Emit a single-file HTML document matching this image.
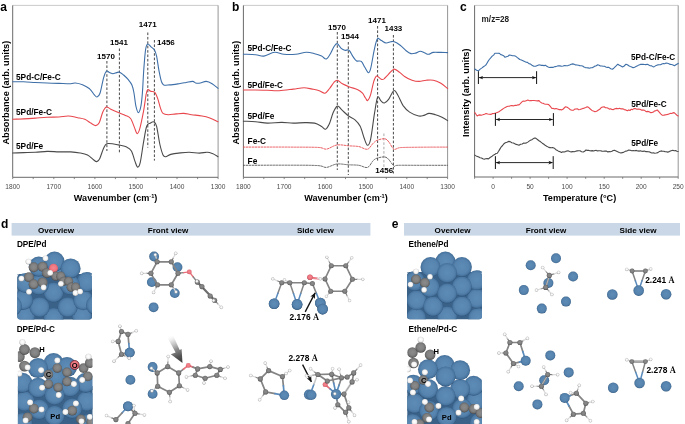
<!DOCTYPE html><html><head><meta charset="utf-8"><title>figure</title>
<style>html,body{margin:0;padding:0;background:#fff;}svg{display:block;will-change:transform}</style></head><body>
<svg width="685" height="424" viewBox="0 0 685 424">
<defs>
<radialGradient id="gPd" cx="50%" cy="48%" r="51%"><stop offset="0" stop-color="#5d8cb7"/><stop offset="0.68" stop-color="#5684af"/><stop offset="0.87" stop-color="#4a77a1"/><stop offset="0.96" stop-color="#3d658d"/><stop offset="1" stop-color="#2f5479"/></radialGradient>
<radialGradient id="gC" cx="50%" cy="46%" r="54%"><stop offset="0" stop-color="#8b8b8b"/><stop offset="0.55" stop-color="#818181"/><stop offset="0.82" stop-color="#6b6b6b"/><stop offset="1" stop-color="#484848"/></radialGradient>
<radialGradient id="gH" cx="50%" cy="46%" r="54%"><stop offset="0" stop-color="#ffffff"/><stop offset="0.55" stop-color="#f6f6f6"/><stop offset="0.85" stop-color="#d8d8d8"/><stop offset="1" stop-color="#a0a0a0"/></radialGradient>
<radialGradient id="gO" cx="50%" cy="46%" r="54%"><stop offset="0" stop-color="#f5868f"/><stop offset="0.6" stop-color="#ee7781"/><stop offset="0.88" stop-color="#d9616d"/><stop offset="1" stop-color="#b04a56"/></radialGradient>
<linearGradient id="gArrow" gradientUnits="userSpaceOnUse" x1="169.5" y1="335" x2="181" y2="362"><stop offset="0" stop-color="#ffffff" stop-opacity="0"/><stop offset="0.25" stop-color="#d0d0d0" stop-opacity="0.75"/><stop offset="0.55" stop-color="#8a8a8a"/><stop offset="0.8" stop-color="#555555"/><stop offset="1" stop-color="#3c3c3c"/></linearGradient>
<marker id="ah2" viewBox="0 0 10 10" refX="9.5" refY="5" markerWidth="4.4" markerHeight="4.4" orient="auto"><path d="M0,0.6 L10,5 L0,9.4 L2.2,5 z" fill="#111"/></marker>
<marker id="ah" viewBox="0 0 10 10" refX="9" refY="5" markerWidth="5" markerHeight="5" orient="auto-start-reverse"><path d="M0,1 L10,5 L0,9 L3,5 z" fill="#111"/></marker>
</defs>
<rect x="0" y="0" width="685" height="424" fill="#ffffff"/>
<path d="M12.7,5.4 H218.1" stroke="#bcbcbc" stroke-width="0.8" fill="none"/>
<path d="M218.1,5.4 V177.3" stroke="#969696" stroke-width="1" fill="none"/>
<path d="M12.7,5.4 V177.3 H218.1" stroke="#6a6a6a" stroke-width="1" fill="none"/>
<text x="12.7" y="188.9" font-size="6.6" font-weight="normal" text-anchor="middle" fill="#4a4a4a" font-family="Liberation Sans, sans-serif" >1800</text>
<text x="53.8" y="188.9" font-size="6.6" font-weight="normal" text-anchor="middle" fill="#4a4a4a" font-family="Liberation Sans, sans-serif" >1700</text>
<text x="94.9" y="188.9" font-size="6.6" font-weight="normal" text-anchor="middle" fill="#4a4a4a" font-family="Liberation Sans, sans-serif" >1600</text>
<text x="135.9" y="188.9" font-size="6.6" font-weight="normal" text-anchor="middle" fill="#4a4a4a" font-family="Liberation Sans, sans-serif" >1500</text>
<text x="177.0" y="188.9" font-size="6.6" font-weight="normal" text-anchor="middle" fill="#4a4a4a" font-family="Liberation Sans, sans-serif" >1400</text>
<text x="218.1" y="188.9" font-size="6.6" font-weight="normal" text-anchor="middle" fill="#4a4a4a" font-family="Liberation Sans, sans-serif" >1300</text>
<path d="M12.7,177.3 v1.8" stroke="#6a6a6a" stroke-width="0.8"/>
<path d="M33.2,177.3 v1.8" stroke="#6a6a6a" stroke-width="0.8"/>
<path d="M53.8,177.3 v1.8" stroke="#6a6a6a" stroke-width="0.8"/>
<path d="M74.3,177.3 v1.8" stroke="#6a6a6a" stroke-width="0.8"/>
<path d="M94.9,177.3 v1.8" stroke="#6a6a6a" stroke-width="0.8"/>
<path d="M115.4,177.3 v1.8" stroke="#6a6a6a" stroke-width="0.8"/>
<path d="M135.9,177.3 v1.8" stroke="#6a6a6a" stroke-width="0.8"/>
<path d="M156.5,177.3 v1.8" stroke="#6a6a6a" stroke-width="0.8"/>
<path d="M177.0,177.3 v1.8" stroke="#6a6a6a" stroke-width="0.8"/>
<path d="M197.6,177.3 v1.8" stroke="#6a6a6a" stroke-width="0.8"/>
<path d="M218.1,177.3 v1.8" stroke="#6a6a6a" stroke-width="0.8"/>
<text x="0.3" y="10.5" font-size="12" font-weight="bold" text-anchor="start" fill="#000" font-family="Liberation Sans, sans-serif" >a</text>
<text transform="translate(9.4,92.7) rotate(-90)" font-size="9.25" font-weight="bold" text-anchor="middle" fill="#000" font-family="Liberation Sans, sans-serif">Absorbance (arb. units)</text>
<text x="115.6" y="201.3" font-size="9.1" font-weight="bold" text-anchor="middle" fill="#000" font-family="Liberation Sans, sans-serif">Wavenumber (cm<tspan font-size="5.6" dy="-3.2">-1</tspan><tspan dy="3.2">)</tspan></text>
<path d="M106.9,61.0 V151.0" stroke="#333" stroke-width="0.9" stroke-dasharray="2.6 1.8" fill="none"/>
<path d="M119.4,48.5 V152.3" stroke="#333" stroke-width="0.9" stroke-dasharray="2.6 1.8" fill="none"/>
<path d="M147.8,32.5 V147.6" stroke="#333" stroke-width="0.9" stroke-dasharray="2.6 1.8" fill="none"/>
<path d="M154.4,40.0 V160.6" stroke="#333" stroke-width="0.9" stroke-dasharray="2.6 1.8" fill="none"/>
<text x="147.7" y="27.3" font-size="8" font-weight="bold" text-anchor="middle" fill="#000" font-family="Liberation Sans, sans-serif" >1471</text>
<text x="119.0" y="44.6" font-size="8" font-weight="bold" text-anchor="middle" fill="#000" font-family="Liberation Sans, sans-serif" >1541</text>
<text x="106.0" y="58.5" font-size="8" font-weight="bold" text-anchor="middle" fill="#000" font-family="Liberation Sans, sans-serif" >1570</text>
<text x="157.0" y="44.6" font-size="8" font-weight="bold" text-anchor="start" fill="#000" font-family="Liberation Sans, sans-serif" >1456</text>
<text x="16.0" y="80.0" font-size="8.3" font-weight="bold" text-anchor="start" fill="#000" font-family="Liberation Sans, sans-serif" >5Pd-C/Fe-C</text>
<text x="16.0" y="114.7" font-size="8.3" font-weight="bold" text-anchor="start" fill="#000" font-family="Liberation Sans, sans-serif" >5Pd/Fe-C</text>
<text x="16.0" y="149.4" font-size="8.3" font-weight="bold" text-anchor="start" fill="#000" font-family="Liberation Sans, sans-serif" >5Pd/Fe</text>
<path d="M12.7,81.8 C14.5,81.8 19.8,81.7 23.6,81.8 C27.4,81.9 31.5,82.3 35.4,82.5 C39.3,82.7 43.2,82.8 47.1,83.0 C51.0,83.2 55.0,83.3 58.9,83.4 C62.8,83.5 68.0,83.8 70.7,83.7 C73.5,83.6 73.4,82.8 75.4,83.0 C77.4,83.2 80.1,83.8 82.5,84.8 C84.9,85.8 87.6,87.2 89.6,88.8 C91.5,90.4 93.0,93.2 94.2,94.6 C95.4,96.0 96.0,97.2 97.0,97.0 C98.0,96.8 98.9,96.4 100.0,93.2 C101.1,90.0 102.5,81.5 103.6,77.8 C104.7,74.1 105.5,72.1 106.5,71.2 C107.5,70.3 108.4,72.2 109.5,72.6 C110.6,73.0 111.8,73.8 113.0,73.8 C114.2,73.8 115.5,72.9 116.6,72.6 C117.7,72.3 118.4,71.8 119.6,72.2 C120.8,72.6 122.1,73.8 123.6,75.0 C125.0,76.2 126.9,78.0 128.3,79.7 C129.7,81.4 131.0,82.9 131.9,84.9 C132.8,87.0 133.2,88.5 133.8,92.0 C134.5,95.5 135.1,102.2 135.8,105.6 C136.6,109.0 137.4,112.6 138.3,112.6 C139.2,112.6 140.3,109.4 141.0,105.6 C141.7,101.8 142.2,95.8 142.6,90.0 C143.0,84.2 143.2,77.5 143.7,70.8 C144.2,64.0 144.9,54.0 145.6,49.5 C146.3,45.0 146.8,44.5 147.7,44.0 C148.6,43.5 149.7,45.7 150.8,46.7 C151.9,47.7 153.5,48.4 154.5,50.0 C155.5,51.6 155.9,53.1 156.7,56.6 C157.4,60.1 158.2,66.7 159.0,70.8 C159.8,74.9 160.6,79.1 161.4,81.4 C162.2,83.8 162.3,84.3 163.7,84.9 C165.1,85.5 167.0,85.1 169.6,84.9 C172.2,84.7 176.2,84.1 179.0,83.7 C181.8,83.3 183.8,82.9 186.1,82.5 C188.4,82.1 191.1,81.3 192.7,81.4 C194.3,81.5 194.3,82.7 195.6,83.0 C196.9,83.3 198.5,83.3 200.3,83.0 C202.1,82.7 204.2,81.3 206.2,81.4 C208.2,81.5 210.1,82.5 212.1,83.7 C214.1,84.9 217.0,87.6 218.0,88.4" fill="none" stroke="#3e6fa8" stroke-width="1.1" stroke-linejoin="round" stroke-linecap="round"/>
<path d="M12.7,119.3 C14.5,119.2 19.8,119.1 23.6,118.9 C27.4,118.7 31.5,118.4 35.4,118.1 C39.3,117.8 43.2,117.4 47.1,117.2 C51.0,117.0 55.4,117.2 58.9,117.0 C62.4,116.8 65.1,115.9 68.3,116.0 C71.5,116.1 75.0,117.2 77.8,117.7 C80.5,118.2 82.6,118.4 84.8,119.3 C87.0,120.2 88.9,122.0 90.7,123.1 C92.5,124.1 94.4,125.6 95.8,125.6 C97.2,125.5 98.0,125.1 99.2,122.8 C100.4,120.5 101.6,114.6 102.8,112.0 C104.0,109.4 105.0,107.5 106.3,107.0 C107.6,106.5 108.7,108.2 110.8,109.2 C112.9,110.2 116.5,111.8 118.9,112.8 C121.3,113.8 123.5,114.5 125.4,115.4 C127.4,116.4 129.1,116.5 130.6,118.5 C132.1,120.5 133.4,125.1 134.5,127.6 C135.6,130.1 136.2,133.4 137.1,133.6 C138.0,133.8 138.6,132.7 139.7,128.9 C140.8,125.1 142.5,116.6 143.6,110.8 C144.7,105.0 145.5,97.5 146.2,94.0 C146.9,90.5 147.2,90.0 147.9,89.6 C148.6,89.1 149.4,90.8 150.6,91.3 C151.8,91.8 153.6,91.1 154.8,92.4 C156.0,93.7 157.0,96.5 157.9,99.1 C158.8,101.7 159.7,105.8 160.5,108.2 C161.3,110.6 161.7,112.3 163.0,113.4 C164.3,114.5 166.0,114.6 168.2,114.7 C170.4,114.8 173.4,114.1 176.0,113.9 C178.6,113.7 181.2,113.3 183.8,113.4 C186.4,113.5 188.6,114.3 191.6,114.7 C194.6,115.1 199.0,115.5 202.0,116.0 C205.0,116.5 207.1,117.0 209.8,118.0 C212.5,119.0 216.6,121.1 218.0,121.7" fill="none" stroke="#e8474d" stroke-width="1.1" stroke-linejoin="round" stroke-linecap="round"/>
<path d="M12.7,153.0 C14.5,152.9 19.8,152.7 23.6,152.6 C27.4,152.5 31.5,152.5 35.4,152.3 C39.3,152.1 43.2,151.5 47.1,151.4 C51.0,151.3 55.0,151.8 58.9,151.9 C62.8,152.0 67.2,151.7 70.7,151.9 C74.2,152.1 77.3,152.5 80.1,153.0 C82.9,153.5 85.3,153.9 87.5,155.0 C89.7,156.1 92.0,158.7 93.5,159.8 C95.0,160.9 95.8,161.8 96.8,161.6 C97.8,161.4 98.7,160.6 99.8,158.4 C100.9,156.2 102.3,150.9 103.5,148.4 C104.7,145.9 105.1,144.4 106.8,143.7 C108.5,143.0 111.5,143.7 113.7,144.0 C115.9,144.3 118.0,144.8 120.2,145.3 C122.4,145.8 124.8,146.2 126.7,147.1 C128.6,148.0 130.0,148.6 131.4,151.0 C132.8,153.4 134.0,158.7 135.0,161.4 C136.0,164.1 136.7,166.9 137.6,167.1 C138.5,167.3 139.2,166.9 140.2,162.7 C141.2,158.5 142.5,148.0 143.6,141.9 C144.7,135.8 145.6,129.4 146.7,126.3 C147.8,123.2 148.9,123.9 150.1,123.2 C151.3,122.5 152.9,121.4 154.0,121.9 C155.1,122.4 155.6,122.5 156.6,126.3 C157.6,130.1 158.8,139.7 159.9,144.5 C161.0,149.3 162.1,152.9 163.0,154.9 C163.9,156.9 164.3,156.8 165.6,156.7 C166.9,156.6 168.6,155.0 170.8,154.4 C173.0,153.8 175.6,153.4 178.6,153.1 C181.6,152.8 185.5,152.3 189.0,152.3 C192.5,152.3 196.4,153.1 199.4,153.1 C202.4,153.1 205.0,152.2 207.2,152.3 C209.4,152.4 210.6,152.9 212.4,153.6 C214.2,154.3 217.1,156.2 218.0,156.7" fill="none" stroke="#4a4a4a" stroke-width="1.1" stroke-linejoin="round" stroke-linecap="round"/>
<path d="M243.4,5.4 H447.6" stroke="#bcbcbc" stroke-width="0.8" fill="none"/>
<path d="M447.6,5.4 V177.3" stroke="#969696" stroke-width="1" fill="none"/>
<path d="M243.4,5.4 V177.3 H447.6" stroke="#6a6a6a" stroke-width="1" fill="none"/>
<text x="243.4" y="188.9" font-size="6.6" font-weight="normal" text-anchor="middle" fill="#4a4a4a" font-family="Liberation Sans, sans-serif" >1800</text>
<text x="284.2" y="188.9" font-size="6.6" font-weight="normal" text-anchor="middle" fill="#4a4a4a" font-family="Liberation Sans, sans-serif" >1700</text>
<text x="325.1" y="188.9" font-size="6.6" font-weight="normal" text-anchor="middle" fill="#4a4a4a" font-family="Liberation Sans, sans-serif" >1600</text>
<text x="365.9" y="188.9" font-size="6.6" font-weight="normal" text-anchor="middle" fill="#4a4a4a" font-family="Liberation Sans, sans-serif" >1500</text>
<text x="406.8" y="188.9" font-size="6.6" font-weight="normal" text-anchor="middle" fill="#4a4a4a" font-family="Liberation Sans, sans-serif" >1400</text>
<text x="447.6" y="188.9" font-size="6.6" font-weight="normal" text-anchor="middle" fill="#4a4a4a" font-family="Liberation Sans, sans-serif" >1300</text>
<path d="M243.4,177.3 v1.8" stroke="#6a6a6a" stroke-width="0.8"/>
<path d="M263.8,177.3 v1.8" stroke="#6a6a6a" stroke-width="0.8"/>
<path d="M284.2,177.3 v1.8" stroke="#6a6a6a" stroke-width="0.8"/>
<path d="M304.7,177.3 v1.8" stroke="#6a6a6a" stroke-width="0.8"/>
<path d="M325.1,177.3 v1.8" stroke="#6a6a6a" stroke-width="0.8"/>
<path d="M345.5,177.3 v1.8" stroke="#6a6a6a" stroke-width="0.8"/>
<path d="M365.9,177.3 v1.8" stroke="#6a6a6a" stroke-width="0.8"/>
<path d="M386.3,177.3 v1.8" stroke="#6a6a6a" stroke-width="0.8"/>
<path d="M406.8,177.3 v1.8" stroke="#6a6a6a" stroke-width="0.8"/>
<path d="M427.2,177.3 v1.8" stroke="#6a6a6a" stroke-width="0.8"/>
<path d="M447.6,177.3 v1.8" stroke="#6a6a6a" stroke-width="0.8"/>
<text x="232.0" y="10.9" font-size="12" font-weight="bold" text-anchor="start" fill="#000" font-family="Liberation Sans, sans-serif" >b</text>
<text transform="translate(239.3,92.7) rotate(-90)" font-size="9.25" font-weight="bold" text-anchor="middle" fill="#000" font-family="Liberation Sans, sans-serif">Absorbance (arb. units)</text>
<text x="346" y="201.3" font-size="9.1" font-weight="bold" text-anchor="middle" fill="#000" font-family="Liberation Sans, sans-serif">Wavenumber (cm<tspan font-size="5.6" dy="-3.2">-1</tspan><tspan dy="3.2">)</tspan></text>
<path d="M337.3,32.0 V170.0" stroke="#333" stroke-width="0.9" stroke-dasharray="2.6 1.8" fill="none"/>
<path d="M348.3,42.0 V175.0" stroke="#333" stroke-width="0.9" stroke-dasharray="2.6 1.8" fill="none"/>
<path d="M377.6,26.0 V161.5" stroke="#333" stroke-width="0.9" stroke-dasharray="2.6 1.8" fill="none"/>
<path d="M393.4,35.0 V173.5" stroke="#333" stroke-width="0.9" stroke-dasharray="2.6 1.8" fill="none"/>
<path d="M383.9,133.5 V169.0" stroke="#a0a0a0" stroke-width="0.9" stroke-dasharray="2.6 1.8" fill="none"/>
<text x="337.0" y="30.0" font-size="8" font-weight="bold" text-anchor="middle" fill="#000" font-family="Liberation Sans, sans-serif" >1570</text>
<text x="350.0" y="39.3" font-size="8" font-weight="bold" text-anchor="middle" fill="#000" font-family="Liberation Sans, sans-serif" >1544</text>
<text x="377.0" y="23.0" font-size="8" font-weight="bold" text-anchor="middle" fill="#000" font-family="Liberation Sans, sans-serif" >1471</text>
<text x="393.4" y="31.3" font-size="8" font-weight="bold" text-anchor="middle" fill="#000" font-family="Liberation Sans, sans-serif" >1433</text>
<text x="384.2" y="173.0" font-size="8" font-weight="bold" text-anchor="middle" fill="#000" font-family="Liberation Sans, sans-serif" >1456</text>
<text x="247.4" y="51.2" font-size="8.2" font-weight="bold" text-anchor="start" fill="#000" font-family="Liberation Sans, sans-serif" >5Pd-C/Fe-C</text>
<text x="247.4" y="88.0" font-size="8.2" font-weight="bold" text-anchor="start" fill="#000" font-family="Liberation Sans, sans-serif" >5Pd/Fe-C</text>
<text x="247.4" y="119.4" font-size="8.2" font-weight="bold" text-anchor="start" fill="#000" font-family="Liberation Sans, sans-serif" >5Pd/Fe</text>
<text x="247.6" y="143.5" font-size="8.3" font-weight="bold" text-anchor="start" fill="#000" font-family="Liberation Sans, sans-serif" >Fe-C</text>
<text x="247.6" y="164.0" font-size="8.3" font-weight="bold" text-anchor="start" fill="#000" font-family="Liberation Sans, sans-serif" >Fe</text>
<path d="M243.4,54.2 C245.4,54.3 252.2,54.4 255.6,54.7 C259.0,55.0 260.8,56.5 263.9,56.1 C267.0,55.7 271.2,52.6 274.5,52.3 C277.8,52.0 280.4,53.9 283.9,54.2 C287.4,54.5 292.0,54.5 295.7,54.2 C299.4,53.9 303.1,52.4 306.3,52.3 C309.5,52.2 312.1,53.1 314.6,53.7 C317.2,54.3 319.7,55.2 321.6,56.1 C323.6,57.0 324.8,59.5 326.3,59.0 C327.8,58.5 329.5,55.2 330.8,53.0 C332.1,50.8 333.3,47.5 334.4,46.0 C335.5,44.5 336.3,43.3 337.4,43.7 C338.5,44.1 340.0,47.3 341.2,48.4 C342.4,49.5 343.5,50.0 344.8,50.3 C346.1,50.6 347.6,49.2 349.0,50.3 C350.4,51.3 351.7,54.8 353.0,56.6 C354.3,58.4 355.2,60.1 356.6,60.9 C358.0,61.7 359.9,60.3 361.3,61.4 C362.7,62.5 363.6,65.4 364.8,67.3 C366.0,69.2 367.4,72.5 368.4,72.7 C369.4,72.9 369.7,72.2 370.7,68.4 C371.7,64.6 373.2,54.5 374.3,49.6 C375.4,44.7 376.2,40.4 377.4,38.9 C378.6,37.4 379.9,39.9 381.4,40.6 C382.8,41.3 384.5,42.8 386.1,43.0 C387.7,43.2 389.4,42.0 390.8,41.8 C392.2,41.6 392.7,41.2 394.3,41.8 C395.9,42.4 398.2,43.8 400.2,45.3 C402.2,46.8 404.3,49.3 406.1,50.7 C407.9,52.1 409.3,53.2 410.9,53.6 C412.5,54.0 414.0,53.5 415.6,53.1 C417.2,52.7 418.7,51.2 420.3,51.2 C421.9,51.2 423.6,52.6 425.0,53.1 C426.4,53.6 427.2,54.4 428.6,54.3 C430.0,54.2 431.3,52.7 433.3,52.4 C435.3,52.1 438.0,52.4 440.4,52.4 C442.8,52.4 446.4,52.6 447.6,52.6" fill="none" stroke="#3e6fa8" stroke-width="1.1" stroke-linejoin="round" stroke-linecap="round"/>
<path d="M243.4,90.0 C245.4,90.0 251.6,90.0 255.6,90.0 C259.6,90.0 263.5,90.2 267.4,90.3 C271.3,90.4 274.9,90.9 279.2,90.7 C283.5,90.5 289.2,89.6 293.3,89.1 C297.4,88.6 300.9,87.7 304.0,87.7 C307.1,87.7 309.6,88.6 312.2,89.1 C314.8,89.6 317.2,90.0 319.3,90.7 C321.4,91.4 323.3,93.6 325.0,93.2 C326.7,92.8 328.1,90.3 329.6,88.5 C331.1,86.7 332.7,83.7 334.0,82.3 C335.3,80.9 336.0,80.0 337.4,80.2 C338.8,80.5 340.4,82.7 342.4,83.8 C344.4,84.9 346.9,85.9 349.5,86.9 C352.1,87.9 355.6,88.7 357.8,89.7 C360.0,90.8 361.2,91.8 362.5,93.2 C363.8,94.6 364.6,96.8 365.5,98.0 C366.4,99.2 366.7,101.1 367.6,100.5 C368.5,99.9 369.7,97.6 370.7,94.4 C371.7,91.2 372.8,84.5 373.8,81.4 C374.8,78.3 375.4,76.4 376.6,76.0 C377.8,75.6 379.7,78.6 380.9,79.1 C382.1,79.6 382.4,79.9 383.7,79.1 C384.9,78.3 386.7,75.9 388.4,74.3 C390.1,72.7 392.1,69.6 393.9,69.2 C395.7,68.8 397.2,70.8 399.1,72.0 C401.0,73.2 402.9,75.3 405.0,76.7 C407.1,78.1 409.6,79.4 412.0,80.2 C414.4,81.0 416.7,81.4 419.1,81.4 C421.5,81.4 423.8,80.4 426.2,80.2 C428.6,80.0 430.9,79.7 433.3,80.2 C435.7,80.7 438.0,81.7 440.4,83.1 C442.8,84.5 446.4,87.6 447.6,88.5" fill="none" stroke="#e8474d" stroke-width="1.1" stroke-linejoin="round" stroke-linecap="round"/>
<path d="M243.4,121.2 C245.4,121.3 251.6,121.4 255.6,121.7 C259.6,122.0 263.1,123.0 267.4,123.1 C271.7,123.2 277.3,122.4 281.6,122.4 C285.9,122.4 289.4,123.1 293.3,123.1 C297.2,123.1 301.6,122.6 305.1,122.6 C308.7,122.6 311.9,122.5 314.6,123.1 C317.4,123.7 319.8,125.4 321.6,126.4 C323.4,127.4 324.3,129.7 325.6,129.2 C326.9,128.7 328.2,126.3 329.5,123.5 C330.8,120.7 331.9,115.4 333.2,112.5 C334.5,109.6 335.9,106.5 337.4,106.1 C338.9,105.7 340.2,108.5 342.1,110.2 C344.0,111.9 346.5,114.4 348.6,116.0 C350.8,117.6 353.1,118.2 355.0,119.9 C356.9,121.6 358.7,123.3 360.2,126.3 C361.7,129.3 362.9,134.8 364.1,138.0 C365.3,141.2 366.4,145.1 367.5,145.3 C368.6,145.5 369.4,144.6 370.6,139.3 C371.8,134.0 373.3,120.4 374.5,113.4 C375.7,106.4 376.5,99.4 377.6,97.3 C378.7,95.2 379.9,100.0 381.0,100.9 C382.1,101.9 383.1,103.3 384.4,103.0 C385.7,102.7 387.2,101.2 388.8,99.1 C390.4,97.0 392.5,91.2 394.0,90.6 C395.5,89.9 396.4,92.7 397.9,95.2 C399.4,97.7 401.2,102.8 403.1,105.6 C405.1,108.4 407.0,110.4 409.6,112.1 C412.2,113.8 416.3,115.5 418.7,116.0 C421.1,116.5 422.1,115.8 423.8,115.4 C425.5,115.0 427.1,113.5 429.0,113.4 C430.9,113.3 433.3,114.1 435.5,114.7 C437.7,115.3 440.0,116.3 442.0,117.3 C444.0,118.3 446.7,120.0 447.6,120.6" fill="none" stroke="#4a4a4a" stroke-width="1.1" stroke-linejoin="round" stroke-linecap="round"/>
<path d="M243.4,147.1 C251.2,147.1 277.6,147.0 290.0,147.1 C302.4,147.2 311.9,147.1 318.0,147.4 C324.1,147.7 323.4,149.5 326.5,149.1 C329.6,148.7 333.2,145.6 336.9,145.0 C340.6,144.4 344.9,145.5 348.6,145.8 C352.3,146.1 355.8,146.0 358.9,146.6 C362.0,147.2 365.1,149.8 367.5,149.2 C369.9,148.6 371.5,144.7 373.2,143.2 C374.9,141.7 375.7,140.8 377.6,140.1 C379.6,139.4 383.0,138.5 384.9,138.8 C386.8,139.1 387.3,140.2 388.8,141.9 C390.3,143.6 392.1,148.2 394.0,149.2 C395.9,150.1 396.2,147.9 400.5,147.6 C404.8,147.3 412.1,147.3 420.0,147.2 C427.9,147.1 443.0,147.1 447.6,147.1" fill="none" stroke="#e8474d" stroke-width="0.9" stroke-linejoin="round" stroke-linecap="round" stroke-dasharray="1.7 1.3"/>
<path d="M243.4,165.3 C251.2,165.3 277.6,165.1 290.0,165.2 C302.4,165.2 311.9,165.2 318.0,165.6 C324.1,166.0 323.4,167.7 326.5,167.4 C329.6,167.1 333.2,164.4 336.9,164.0 C340.6,163.6 344.9,164.6 348.6,164.8 C352.3,165.0 355.8,164.9 358.9,165.3 C362.0,165.7 365.1,168.2 367.5,167.4 C369.9,166.6 371.5,162.2 373.2,160.6 C374.9,159.0 375.7,158.6 377.6,158.0 C379.6,157.4 383.0,156.7 384.9,157.0 C386.8,157.3 387.3,158.1 388.8,159.6 C390.3,161.1 392.5,165.1 394.0,166.1 C395.5,167.1 393.6,165.4 397.9,165.3 C402.2,165.2 411.7,165.3 420.0,165.3 C428.3,165.3 443.0,165.3 447.6,165.3" fill="none" stroke="#555" stroke-width="0.9" stroke-linejoin="round" stroke-linecap="round" stroke-dasharray="1.7 1.3"/>
<path d="M474.6,5.4 H678.2" stroke="#bcbcbc" stroke-width="0.8" fill="none"/>
<path d="M678.2,5.4 V177.0" stroke="#969696" stroke-width="1" fill="none"/>
<path d="M474.6,5.4 V177.0 H678.2" stroke="#6a6a6a" stroke-width="1" fill="none"/>
<path d="M474.6,177.0 v1.8" stroke="#6a6a6a" stroke-width="0.8"/>
<path d="M493.1,177.0 v1.8" stroke="#6a6a6a" stroke-width="0.8"/>
<path d="M511.6,177.0 v1.8" stroke="#6a6a6a" stroke-width="0.8"/>
<path d="M530.1,177.0 v1.8" stroke="#6a6a6a" stroke-width="0.8"/>
<path d="M548.6,177.0 v1.8" stroke="#6a6a6a" stroke-width="0.8"/>
<path d="M567.1,177.0 v1.8" stroke="#6a6a6a" stroke-width="0.8"/>
<path d="M585.7,177.0 v1.8" stroke="#6a6a6a" stroke-width="0.8"/>
<path d="M604.2,177.0 v1.8" stroke="#6a6a6a" stroke-width="0.8"/>
<path d="M622.7,177.0 v1.8" stroke="#6a6a6a" stroke-width="0.8"/>
<path d="M641.2,177.0 v1.8" stroke="#6a6a6a" stroke-width="0.8"/>
<path d="M659.7,177.0 v1.8" stroke="#6a6a6a" stroke-width="0.8"/>
<path d="M678.2,177.0 v1.8" stroke="#6a6a6a" stroke-width="0.8"/>
<text x="493.1" y="188.6" font-size="6.6" font-weight="normal" text-anchor="middle" fill="#4a4a4a" font-family="Liberation Sans, sans-serif" >0</text>
<text x="530.1" y="188.6" font-size="6.6" font-weight="normal" text-anchor="middle" fill="#4a4a4a" font-family="Liberation Sans, sans-serif" >50</text>
<text x="567.1" y="188.6" font-size="6.6" font-weight="normal" text-anchor="middle" fill="#4a4a4a" font-family="Liberation Sans, sans-serif" >100</text>
<text x="604.2" y="188.6" font-size="6.6" font-weight="normal" text-anchor="middle" fill="#4a4a4a" font-family="Liberation Sans, sans-serif" >150</text>
<text x="641.2" y="188.6" font-size="6.6" font-weight="normal" text-anchor="middle" fill="#4a4a4a" font-family="Liberation Sans, sans-serif" >200</text>
<text x="678.2" y="188.6" font-size="6.6" font-weight="normal" text-anchor="middle" fill="#4a4a4a" font-family="Liberation Sans, sans-serif" >250</text>
<text x="460.0" y="10.6" font-size="12" font-weight="bold" text-anchor="start" fill="#000" font-family="Liberation Sans, sans-serif" >c</text>
<text transform="translate(469.4,92.7) rotate(-90)" font-size="9.25" font-weight="bold" text-anchor="middle" fill="#000" font-family="Liberation Sans, sans-serif">Intensity (arb. units)</text>
<text x="579.6" y="201.3" font-size="9.1" font-weight="bold" text-anchor="middle" fill="#000" font-family="Liberation Sans, sans-serif" >Temperature (°C)</text>
<text x="481.6" y="21.6" font-size="8.2" font-weight="bold" text-anchor="start" fill="#222" font-family="Liberation Sans, sans-serif" >m/z=28</text>
<text x="631.0" y="60.3" font-size="8.2" font-weight="bold" text-anchor="start" fill="#000" font-family="Liberation Sans, sans-serif" >5Pd-C/Fe-C</text>
<text x="631.2" y="106.5" font-size="8.2" font-weight="bold" text-anchor="start" fill="#000" font-family="Liberation Sans, sans-serif" >5Pd/Fe-C</text>
<text x="631.2" y="145.6" font-size="8.2" font-weight="bold" text-anchor="start" fill="#000" font-family="Liberation Sans, sans-serif" >5Pd/Fe</text>
<path d="M474.8,69.0 L476.6,70.3 L478.4,70.8 L480.2,69.1 L482.0,67.9 L483.4,66.8 L484.7,65.9 L486.1,64.8 L487.7,61.9 L489.3,59.5 L490.9,57.7 L492.2,56.1 L493.6,55.1 L494.9,53.3 L496.5,53.3 L498.1,53.2 L499.4,53.4 L500.8,54.6 L502.1,55.0 L503.6,55.7 L505.0,57.3 L506.4,56.7 L507.9,56.3 L509.3,55.0 L510.9,55.2 L512.5,55.7 L514.2,55.7 L515.8,56.3 L517.1,57.4 L518.5,58.5 L519.8,59.5 L521.4,60.0 L523.0,60.7 L524.6,61.6 L526.2,62.2 L527.5,62.4 L528.9,63.7 L530.2,63.9 L532.0,65.2 L533.8,66.2 L535.6,66.2 L537.4,65.4 L538.8,64.9 L540.1,65.0 L541.5,65.4 L542.8,65.4 L544.1,65.6 L545.5,65.2 L546.8,66.3 L548.2,67.0 L549.5,67.5 L550.9,67.4 L552.4,67.4 L553.8,67.1 L555.3,66.6 L556.7,66.3 L558.3,65.8 L559.9,65.9 L561.5,66.3 L563.1,66.0 L564.7,65.5 L566.4,65.7 L568.0,65.6 L569.6,65.1 L571.2,64.3 L572.8,63.9 L574.2,64.3 L575.6,64.9 L577.0,65.0 L578.4,65.2 L579.8,65.6 L581.2,65.8 L582.6,66.0 L584.0,67.0 L585.4,67.6 L586.7,67.7 L588.1,67.9 L589.5,68.3 L590.9,67.8 L592.2,67.7 L593.6,66.9 L595.0,66.1 L596.3,65.8 L597.7,64.8 L599.1,65.2 L600.4,66.0 L601.8,66.0 L603.1,66.2 L604.5,66.3 L605.8,66.9 L607.2,67.4 L608.9,67.4 L610.7,68.7 L612.4,69.2 L613.8,68.2 L615.1,66.9 L616.4,65.7 L617.8,64.2 L619.4,65.3 L620.9,66.1 L622.5,67.0 L624.2,66.0 L626.0,64.2 L627.4,64.7 L628.8,65.7 L630.3,66.4 L631.7,67.0 L633.1,67.8 L634.6,67.2 L636.0,66.5 L637.5,65.8 L639.0,64.9 L640.4,64.4 L641.8,64.4 L643.1,64.3 L644.5,64.5 L645.9,64.6 L647.3,64.3 L648.8,65.1 L650.2,65.7 L651.7,65.9 L653.2,66.9 L654.7,66.4 L656.2,65.4 L657.6,64.9 L659.1,64.7 L660.5,64.8 L661.9,64.0 L663.3,63.5 L664.7,63.7 L666.1,63.1 L667.5,63.2 L668.9,63.7 L670.2,64.4 L671.6,64.5 L673.0,65.0 L674.4,65.7 L676.3,64.5 L678.2,63.4" fill="none" stroke="#3e6fa8" stroke-width="1.1" stroke-linejoin="round" stroke-linecap="round"/>
<path d="M474.8,112.5 L477.2,116.0 L478.5,115.1 L479.9,114.9 L481.2,115.2 L482.8,114.8 L484.5,114.2 L486.1,113.5 L487.7,114.0 L489.3,114.2 L490.9,114.4 L492.5,113.6 L494.1,113.5 L495.7,113.0 L497.3,112.4 L498.9,111.8 L500.5,110.6 L502.1,109.5 L503.7,108.4 L505.3,107.4 L506.6,106.7 L507.9,106.3 L509.2,106.3 L510.5,105.8 L511.8,105.5 L513.2,105.9 L514.7,105.4 L516.1,105.4 L517.6,104.9 L519.0,104.9 L520.3,103.6 L521.7,102.1 L523.0,101.1 L524.6,101.3 L526.2,100.7 L527.8,100.1 L529.4,100.7 L531.0,100.6 L532.6,100.5 L534.2,100.5 L535.8,100.7 L537.4,100.9 L539.0,100.6 L540.4,102.1 L541.7,103.0 L543.1,103.3 L544.5,104.0 L545.9,104.3 L547.3,104.3 L548.7,104.6 L550.3,106.4 L551.9,108.5 L553.3,108.4 L554.7,108.9 L556.1,108.5 L557.5,109.0 L558.8,109.6 L560.2,109.5 L561.5,109.9 L562.9,109.3 L564.2,108.0 L565.6,106.7 L567.2,107.3 L568.8,108.4 L570.4,109.7 L572.0,110.2 L573.3,110.3 L574.7,109.1 L576.0,109.0 L577.3,108.8 L578.7,109.7 L580.0,109.5 L581.4,108.9 L582.9,108.4 L584.3,108.1 L585.8,107.5 L587.2,106.8 L588.8,107.6 L590.3,109.0 L591.9,110.4 L593.4,111.1 L595.0,111.8 L596.6,111.3 L598.1,110.2 L599.7,109.3 L601.2,107.6 L602.8,107.0 L604.1,106.8 L605.4,107.8 L606.7,107.8 L608.0,108.1 L609.3,109.1 L610.6,108.7 L611.9,109.5 L613.4,109.6 L615.0,108.7 L616.5,108.4 L618.1,108.8 L619.6,108.2 L621.2,108.9 L622.7,108.7 L624.3,109.6 L625.8,109.9 L627.4,110.8 L628.7,109.9 L630.0,110.5 L631.3,109.2 L632.6,109.6 L633.9,108.6 L635.2,108.6 L636.8,109.3 L638.3,109.0 L639.9,109.3 L641.4,110.1 L643.0,110.1 L644.6,110.3 L646.1,111.7 L647.7,111.4 L649.2,111.8 L650.8,112.7 L652.1,112.4 L653.4,112.0 L654.7,110.9 L656.0,110.6 L657.3,110.0 L659.0,111.8 L660.7,113.8 L662.4,115.3 L663.7,115.3 L665.0,114.9 L666.3,114.8 L667.6,114.4 L668.9,113.9 L670.2,113.4 L671.5,113.5 L672.8,112.9 L674.1,112.6 L675.5,113.8 L676.8,115.2 L678.2,115.9" fill="none" stroke="#e8474d" stroke-width="1.1" stroke-linejoin="round" stroke-linecap="round"/>
<path d="M474.8,155.1 L476.1,155.9 L477.5,156.4 L478.8,157.1 L480.1,157.8 L481.5,158.0 L482.8,158.8 L484.2,159.2 L485.6,158.7 L487.1,158.6 L488.5,158.9 L490.1,157.5 L491.7,156.6 L493.3,155.2 L494.6,154.6 L496.0,153.5 L497.3,153.2 L498.6,151.3 L500.0,148.9 L501.3,146.8 L502.6,145.5 L504.0,143.7 L505.3,142.8 L506.9,142.2 L508.5,141.4 L510.1,141.6 L511.8,142.8 L513.4,143.0 L514.8,143.7 L516.2,144.4 L517.6,144.7 L519.0,145.3 L520.6,144.3 L522.2,144.0 L523.8,143.1 L525.1,143.2 L526.5,142.9 L527.8,142.1 L529.1,141.1 L530.5,140.2 L531.8,139.7 L533.4,138.6 L535.0,137.9 L536.3,138.6 L537.7,139.7 L539.0,140.7 L540.6,141.8 L542.3,143.2 L543.9,144.3 L545.5,145.6 L547.1,146.4 L548.7,147.4 L550.0,147.6 L551.4,147.8 L552.7,147.6 L554.3,148.2 L555.9,149.7 L557.5,150.6 L558.8,151.4 L560.2,151.7 L561.5,152.4 L562.8,151.8 L564.1,152.0 L565.4,151.6 L566.7,151.1 L568.0,150.8 L569.6,151.5 L571.2,151.9 L572.8,151.6 L574.2,151.8 L575.7,151.3 L577.1,150.9 L578.6,150.8 L580.0,150.8 L581.6,151.7 L583.3,152.0 L584.6,151.3 L585.9,150.0 L587.2,150.4 L588.5,150.2 L589.8,150.7 L591.1,150.9 L592.4,150.6 L593.7,151.0 L595.0,150.5 L596.3,150.4 L597.6,150.9 L598.9,150.7 L600.4,150.8 L601.9,151.1 L603.4,151.3 L604.8,151.1 L606.3,151.1 L607.8,151.9 L609.3,151.6 L610.6,151.7 L611.9,151.3 L613.2,150.5 L614.5,150.2 L616.1,150.9 L617.7,151.7 L619.3,152.4 L620.9,153.0 L622.2,152.6 L623.5,152.4 L624.8,151.6 L626.1,151.1 L627.4,150.8 L628.7,150.1 L630.2,150.2 L631.7,150.8 L633.2,150.6 L634.8,150.7 L636.3,150.4 L637.8,150.9 L639.1,151.1 L640.4,150.7 L641.7,151.3 L643.0,151.4 L644.3,151.0 L645.6,151.6 L646.9,151.6 L648.2,151.8 L649.5,151.9 L650.8,152.6 L652.1,153.0 L653.4,152.8 L654.7,153.3 L656.3,153.0 L657.9,152.6 L659.5,151.4 L661.1,150.9 L662.4,151.2 L663.7,151.3 L665.0,151.6 L666.3,151.8 L667.6,152.1 L669.3,151.6 L671.1,150.7 L672.8,150.2 L674.1,150.7 L675.5,150.5 L676.9,151.2 L678.2,151.5" fill="none" stroke="#4a4a4a" stroke-width="1.1" stroke-linejoin="round" stroke-linecap="round"/>
<path d="M478.4,71.19999999999999 V84.0 M536.6,71.19999999999999 V84.0" stroke="#111" stroke-width="1"/>
<path d="M479.2,77.6 H535.8000000000001" stroke="#111" stroke-width="0.9" marker-start="url(#ah)" marker-end="url(#ah)"/>
<path d="M495.4,113.1 V125.9 M553.4,113.1 V125.9" stroke="#111" stroke-width="1"/>
<path d="M496.2,119.5 H552.6" stroke="#111" stroke-width="0.9" marker-start="url(#ah)" marker-end="url(#ah)"/>
<path d="M495.4,156.2 V169.0 M553.2,156.2 V169.0" stroke="#111" stroke-width="1"/>
<path d="M496.2,162.6 H552.4000000000001" stroke="#111" stroke-width="0.9" marker-start="url(#ah)" marker-end="url(#ah)"/>
<rect x="11.6" y="223" width="358.8" height="12.6" fill="#c9d7e6"/>
<rect x="404" y="223" width="276" height="12.6" fill="#c9d7e6"/>
<text x="1.0" y="228.3" font-size="12" font-weight="bold" text-anchor="start" fill="#000" font-family="Liberation Sans, sans-serif" >d</text>
<text x="391.8" y="228.3" font-size="12" font-weight="bold" text-anchor="start" fill="#000" font-family="Liberation Sans, sans-serif" >e</text>
<text x="56.0" y="232.5" font-size="8.1" font-weight="bold" text-anchor="middle" fill="#000" font-family="Liberation Sans, sans-serif" >Overview</text>
<text x="168.0" y="232.5" font-size="8.1" font-weight="bold" text-anchor="middle" fill="#000" font-family="Liberation Sans, sans-serif" >Front view</text>
<text x="315.4" y="232.5" font-size="8.1" font-weight="bold" text-anchor="middle" fill="#000" font-family="Liberation Sans, sans-serif" >Side view</text>
<text x="452.6" y="232.5" font-size="8.1" font-weight="bold" text-anchor="middle" fill="#000" font-family="Liberation Sans, sans-serif" >Overview</text>
<text x="546.0" y="232.5" font-size="8.1" font-weight="bold" text-anchor="middle" fill="#000" font-family="Liberation Sans, sans-serif" >Front view</text>
<text x="638.0" y="232.5" font-size="8.1" font-weight="bold" text-anchor="middle" fill="#000" font-family="Liberation Sans, sans-serif" >Side view</text>
<text x="16.9" y="247.2" font-size="8.2" font-weight="bold" text-anchor="start" fill="#000" font-family="Liberation Sans, sans-serif" >DPE/Pd</text>
<text x="16.7" y="332.3" font-size="8.2" font-weight="bold" text-anchor="start" fill="#000" font-family="Liberation Sans, sans-serif" >DPE/Pd-C</text>
<text x="408.5" y="247.2" font-size="8.2" font-weight="bold" text-anchor="start" fill="#000" font-family="Liberation Sans, sans-serif" >Ethene/Pd</text>
<text x="408.6" y="332.0" font-size="8.2" font-weight="bold" text-anchor="start" fill="#000" font-family="Liberation Sans, sans-serif" >Ethene/Pd-C</text>
<clipPath id="cd1"><rect x="17.3" y="274.2" width="74.7" height="45.30000000000001" rx="3" ry="3"/><rect x="17.3" y="229.2" width="74.7" height="45.2"/></clipPath>
<g clip-path="url(#cd1)">
<rect x="17" y="274" width="76" height="46" fill="#3a6289"/>
<circle cx="25.0" cy="316.0" r="10" fill="url(#gPd)"/>
<circle cx="53.6" cy="318.0" r="10" fill="url(#gPd)"/>
<circle cx="82.0" cy="316.0" r="10" fill="url(#gPd)"/>
<circle cx="39.6" cy="307.3" r="10" fill="url(#gPd)"/>
<circle cx="67.6" cy="307.3" r="10" fill="url(#gPd)"/>
<circle cx="23.0" cy="300.0" r="10" fill="url(#gPd)"/>
<circle cx="83.3" cy="300.3" r="10" fill="url(#gPd)"/>
<circle cx="96.0" cy="305.0" r="10" fill="url(#gPd)"/>
<circle cx="12.0" cy="306.0" r="10" fill="url(#gPd)"/>
<circle cx="53.6" cy="292.5" r="10" fill="url(#gPd)"/>
<circle cx="25.7" cy="283.0" r="10" fill="url(#gPd)"/>
<circle cx="86.7" cy="282.0" r="10" fill="url(#gPd)"/>
<circle cx="38.8" cy="285.0" r="10" fill="url(#gPd)"/>
<circle cx="70.0" cy="285.0" r="10" fill="url(#gPd)"/>
<circle cx="38.8" cy="266.6" r="10" fill="url(#gPd)"/>
<circle cx="58.8" cy="271.2" r="10" fill="url(#gPd)"/>
<circle cx="54.5" cy="261.6" r="10" fill="url(#gPd)"/>
<circle cx="70.6" cy="268.4" r="10" fill="url(#gPd)"/>
<circle cx="33.7" cy="267.3" r="5.0" fill="url(#gC)"/>
<circle cx="42.6" cy="266.8" r="5.0" fill="url(#gC)"/>
<circle cx="29.0" cy="277.2" r="5.0" fill="url(#gC)"/>
<circle cx="33.7" cy="284.2" r="5.0" fill="url(#gC)"/>
<circle cx="42.6" cy="282.4" r="5.0" fill="url(#gC)"/>
<circle cx="46.9" cy="272.9" r="5.0" fill="url(#gC)"/>
<circle cx="53.5" cy="268.2" r="4.5" fill="url(#gO)"/>
<circle cx="55.8" cy="276.2" r="4.6" fill="url(#gC)"/>
<circle cx="60.8" cy="276.2" r="4.6" fill="url(#gC)"/>
<circle cx="63.6" cy="281.3" r="4.6" fill="url(#gC)"/>
<circle cx="68.6" cy="281.3" r="4.6" fill="url(#gC)"/>
<circle cx="71.2" cy="287.2" r="4.6" fill="url(#gC)"/>
<circle cx="75.6" cy="287.2" r="4.6" fill="url(#gC)"/>
<circle cx="28.5" cy="261.6" r="2.9" fill="url(#gH)"/>
<circle cx="45.5" cy="258.3" r="2.9" fill="url(#gH)"/>
<circle cx="21.4" cy="278.6" r="2.9" fill="url(#gH)"/>
<circle cx="29.0" cy="291.8" r="2.9" fill="url(#gH)"/>
<circle cx="43.6" cy="287.5" r="2.9" fill="url(#gH)"/>
<circle cx="50.2" cy="272.9" r="2.9" fill="url(#gH)"/>
<circle cx="60.9" cy="283.8" r="2.9" fill="url(#gH)"/>
<circle cx="75.4" cy="293.0" r="2.9" fill="url(#gH)"/>
<circle cx="80.1" cy="291.6" r="2.9" fill="url(#gH)"/>
</g>
<clipPath id="cd2"><rect x="17.9" y="374" width="74.6" height="56" rx="0" ry="0"/><rect x="17.9" y="334" width="74.6" height="40.2"/></clipPath>
<g clip-path="url(#cd2)">
<rect x="17" y="386" width="76" height="40" fill="#3a6289"/>
<circle cx="5.9" cy="398.2" r="10" fill="url(#gPd)"/>
<circle cx="104.4" cy="398.2" r="10" fill="url(#gPd)"/>
<circle cx="24.5" cy="401.3" r="10" fill="url(#gPd)"/>
<circle cx="86.7" cy="401.3" r="10" fill="url(#gPd)"/>
<circle cx="39.0" cy="409.6" r="10" fill="url(#gPd)"/>
<circle cx="72.2" cy="408.6" r="10" fill="url(#gPd)"/>
<circle cx="54.6" cy="415.8" r="10" fill="url(#gPd)"/>
<circle cx="22.4" cy="423.1" r="10" fill="url(#gPd)"/>
<circle cx="88.8" cy="424.1" r="10" fill="url(#gPd)"/>
<circle cx="22.4" cy="382.7" r="10" fill="url(#gPd)"/>
<circle cx="85.7" cy="382.7" r="10" fill="url(#gPd)"/>
<circle cx="38.0" cy="387.8" r="10" fill="url(#gPd)"/>
<circle cx="70.1" cy="386.8" r="10" fill="url(#gPd)"/>
<circle cx="54.6" cy="395.1" r="10" fill="url(#gPd)"/>
<circle cx="53.6" cy="363.0" r="10" fill="url(#gPd)"/>
<circle cx="38.0" cy="368.1" r="10" fill="url(#gPd)"/>
<circle cx="67.0" cy="367.1" r="10" fill="url(#gPd)"/>
<circle cx="56.0" cy="376.9" r="10" fill="url(#gPd)"/>
<circle cx="48.4" cy="374.4" r="4.7" fill="url(#gC)"/>
<circle cx="57.3" cy="368.1" r="4.7" fill="url(#gC)"/>
<circle cx="67.0" cy="372.3" r="4.7" fill="url(#gC)"/>
<circle cx="67.0" cy="381.6" r="4.7" fill="url(#gC)"/>
<circle cx="58.1" cy="387.4" r="4.7" fill="url(#gC)"/>
<circle cx="48.4" cy="384.1" r="4.7" fill="url(#gC)"/>
<circle cx="83.6" cy="368.1" r="4.9" fill="url(#gC)"/>
<circle cx="89.8" cy="363.0" r="4.9" fill="url(#gC)"/>
<circle cx="87.8" cy="376.4" r="4.9" fill="url(#gC)"/>
<circle cx="74.7" cy="365.0" r="4.5" fill="url(#gO)" stroke="#6a2630" stroke-width="0.8"/>
<circle cx="19.3" cy="356.7" r="5.4" fill="url(#gC)"/>
<circle cx="24.5" cy="366.1" r="5.4" fill="url(#gC)"/>
<circle cx="24.5" cy="349.5" r="5.4" fill="url(#gC)"/>
<circle cx="34.9" cy="352.6" r="5.4" fill="url(#gC)"/>
<circle cx="33.8" cy="408.6" r="4.9" fill="url(#gC)"/>
<circle cx="27.6" cy="417.3" r="4.9" fill="url(#gC)"/>
<circle cx="72.2" cy="410.7" r="4.9" fill="url(#gC)"/>
<circle cx="80.9" cy="419.4" r="4.9" fill="url(#gC)"/>
<circle cx="91.3" cy="422.1" r="4.9" fill="url(#gC)"/>
<circle cx="88.4" cy="356.7" r="3.0" fill="url(#gH)"/>
<circle cx="22.4" cy="342.2" r="3.0" fill="url(#gH)"/>
<circle cx="27.6" cy="367.5" r="3.0" fill="url(#gH)"/>
<circle cx="19.3" cy="373.7" r="3.0" fill="url(#gH)"/>
<circle cx="57.3" cy="360.5" r="3.0" fill="url(#gH)"/>
<circle cx="41.1" cy="370.2" r="3.0" fill="url(#gH)"/>
<circle cx="42.1" cy="387.8" r="3.0" fill="url(#gH)"/>
<circle cx="58.7" cy="395.1" r="3.0" fill="url(#gH)"/>
<circle cx="73.9" cy="384.1" r="3.0" fill="url(#gH)"/>
<circle cx="82.2" cy="380.0" r="3.0" fill="url(#gH)"/>
<circle cx="30.1" cy="402.4" r="3.0" fill="url(#gH)"/>
<circle cx="41.5" cy="409.6" r="3.0" fill="url(#gH)"/>
<circle cx="25.6" cy="420.6" r="3.0" fill="url(#gH)"/>
<circle cx="75.9" cy="403.4" r="3.0" fill="url(#gH)"/>
<circle cx="65.4" cy="412.1" r="3.0" fill="url(#gH)"/>
<circle cx="81.5" cy="421.4" r="3.0" fill="url(#gH)"/>
<circle cx="89.8" cy="416.9" r="3.0" fill="url(#gH)"/>
</g>
<text x="42.1" y="351.6" font-size="7.6" font-weight="bold" text-anchor="middle" fill="#000" font-family="Liberation Sans, sans-serif" >H</text>
<text x="48.6" y="377.2" font-size="7.6" font-weight="bold" text-anchor="middle" fill="#000" font-family="Liberation Sans, sans-serif" >C</text>
<text x="74.8" y="367.8" font-size="7.6" font-weight="bold" text-anchor="middle" fill="#000" font-family="Liberation Sans, sans-serif" >O</text>
<text x="55.2" y="418.6" font-size="7.6" font-weight="bold" text-anchor="middle" fill="#000" font-family="Liberation Sans, sans-serif" >Pd</text>
<circle cx="154.1" cy="256.5" r="4.9" fill="url(#gPd)"/>
<circle cx="177.5" cy="267.1" r="4.9" fill="url(#gPd)"/>
<circle cx="151.8" cy="282.1" r="4.9" fill="url(#gPd)"/>
<circle cx="174.8" cy="293.1" r="4.9" fill="url(#gPd)"/>
<circle cx="153.6" cy="307.3" r="4.9" fill="url(#gPd)"/>
<path d="M157.1,261.8 L171.3,261.8" stroke="#848484" stroke-width="1.7" stroke-linecap="round"/>
<path d="M171.3,261.8 L178.0,273.3" stroke="#848484" stroke-width="1.7" stroke-linecap="round"/>
<path d="M178.0,273.3 L171.3,284.8" stroke="#848484" stroke-width="1.7" stroke-linecap="round"/>
<path d="M171.3,284.8 L157.5,284.8" stroke="#848484" stroke-width="1.7" stroke-linecap="round"/>
<path d="M157.5,284.8 L150.9,273.3" stroke="#848484" stroke-width="1.7" stroke-linecap="round"/>
<path d="M150.9,273.3 L157.1,261.8" stroke="#848484" stroke-width="1.7" stroke-linecap="round"/>
<path d="M171.3,261.8 L173.5,257.6" stroke="#848484" stroke-width="1.15" stroke-linecap="round"/>
<path d="M173.5,257.6 L175.7,253.3" stroke="#d8d8d8" stroke-width="1.15" stroke-linecap="round"/>
<path d="M150.9,273.3 L146.3,273.3" stroke="#848484" stroke-width="1.15" stroke-linecap="round"/>
<path d="M146.3,273.3 L141.7,273.3" stroke="#d8d8d8" stroke-width="1.15" stroke-linecap="round"/>
<path d="M157.5,284.8 L155.6,288.6" stroke="#848484" stroke-width="1.15" stroke-linecap="round"/>
<path d="M155.6,288.6 L153.6,292.4" stroke="#d8d8d8" stroke-width="1.15" stroke-linecap="round"/>
<path d="M171.3,284.8 L173.7,288.4" stroke="#848484" stroke-width="1.15" stroke-linecap="round"/>
<path d="M173.7,288.4 L176.0,291.9" stroke="#d8d8d8" stroke-width="1.15" stroke-linecap="round"/>
<path d="M157.1,261.8 L156.2,258.2" stroke="#848484" stroke-width="1.15" stroke-linecap="round"/>
<path d="M156.2,258.2 L155.3,254.7" stroke="#d8d8d8" stroke-width="1.15" stroke-linecap="round"/>
<path d="M178.0,273.3 L183.7,272.6" stroke="#848484" stroke-width="1.4" stroke-linecap="round"/>
<path d="M183.7,272.6 L189.3,271.9" stroke="#e8707a" stroke-width="1.4" stroke-linecap="round"/>
<path d="M189.3,271.9 L193.3,277.0" stroke="#e8707a" stroke-width="1.4" stroke-linecap="round"/>
<path d="M193.3,277.0 L197.3,282.1" stroke="#848484" stroke-width="1.4" stroke-linecap="round"/>
<path d="M197.3,282.1 L214.6,300.2" stroke="#6e6e6e" stroke-width="2.2" stroke-linecap="round"/>
<path d="M214.6,300.2 L217.9,303.8" stroke="#848484" stroke-width="1.15" stroke-linecap="round"/>
<path d="M217.9,303.8 L221.3,307.3" stroke="#d8d8d8" stroke-width="1.15" stroke-linecap="round"/>
<circle cx="157.1" cy="261.8" r="2.55" fill="url(#gC)"/>
<circle cx="171.3" cy="261.8" r="2.55" fill="url(#gC)"/>
<circle cx="178.0" cy="273.3" r="2.55" fill="url(#gC)"/>
<circle cx="171.3" cy="284.8" r="2.55" fill="url(#gC)"/>
<circle cx="157.5" cy="284.8" r="2.55" fill="url(#gC)"/>
<circle cx="150.9" cy="273.3" r="2.55" fill="url(#gC)"/>
<circle cx="197.3" cy="282.1" r="2.55" fill="url(#gC)"/>
<circle cx="201.9" cy="286.6" r="2.55" fill="url(#gC)"/>
<circle cx="210.2" cy="296.0" r="2.55" fill="url(#gC)"/>
<circle cx="214.6" cy="300.2" r="2.55" fill="url(#gC)"/>
<circle cx="189.3" cy="271.9" r="2.4" fill="url(#gO)"/>
<circle cx="175.7" cy="253.3" r="1.5" fill="url(#gH)" stroke="#b0b0b0" stroke-width="0.35"/>
<circle cx="141.7" cy="273.3" r="1.5" fill="url(#gH)" stroke="#b0b0b0" stroke-width="0.35"/>
<circle cx="153.6" cy="292.4" r="1.5" fill="url(#gH)" stroke="#b0b0b0" stroke-width="0.35"/>
<circle cx="176.0" cy="291.9" r="1.5" fill="url(#gH)" stroke="#b0b0b0" stroke-width="0.35"/>
<circle cx="155.3" cy="254.7" r="1.5" fill="url(#gH)" stroke="#b0b0b0" stroke-width="0.35"/>
<circle cx="221.3" cy="307.3" r="1.5" fill="url(#gH)" stroke="#b0b0b0" stroke-width="0.35"/>
<circle cx="196.9" cy="281.3" r="1.5" fill="url(#gH)" stroke="#b0b0b0" stroke-width="0.35"/>
<circle cx="213.5" cy="300.5" r="1.5" fill="url(#gH)" stroke="#b0b0b0" stroke-width="0.35"/>
<circle cx="129.7" cy="352.6" r="4.9" fill="url(#gPd)"/>
<circle cx="152.6" cy="367.0" r="4.9" fill="url(#gPd)"/>
<circle cx="130.4" cy="379.9" r="4.9" fill="url(#gPd)"/>
<circle cx="152.6" cy="393.9" r="4.9" fill="url(#gPd)"/>
<circle cx="128.0" cy="406.3" r="4.9" fill="url(#gPd)"/>
<path d="M157.2,372.9 L167.7,366.6" stroke="#848484" stroke-width="1.7" stroke-linecap="round"/>
<path d="M167.7,366.6 L178.7,372.9" stroke="#848484" stroke-width="1.7" stroke-linecap="round"/>
<path d="M178.7,372.9 L179.4,385.7" stroke="#848484" stroke-width="1.7" stroke-linecap="round"/>
<path d="M179.4,385.7 L169.4,392.3" stroke="#848484" stroke-width="1.7" stroke-linecap="round"/>
<path d="M169.4,392.3 L157.7,386.2" stroke="#848484" stroke-width="1.7" stroke-linecap="round"/>
<path d="M157.7,386.2 L157.2,372.9" stroke="#848484" stroke-width="1.7" stroke-linecap="round"/>
<path d="M167.7,366.6 L167.9,361.6" stroke="#848484" stroke-width="1.15" stroke-linecap="round"/>
<path d="M167.9,361.6 L168.2,356.5" stroke="#d8d8d8" stroke-width="1.15" stroke-linecap="round"/>
<path d="M179.4,385.7 L183.5,387.8" stroke="#848484" stroke-width="1.15" stroke-linecap="round"/>
<path d="M183.5,387.8 L187.6,389.9" stroke="#d8d8d8" stroke-width="1.15" stroke-linecap="round"/>
<path d="M169.4,392.3 L169.8,397.0" stroke="#848484" stroke-width="1.15" stroke-linecap="round"/>
<path d="M169.8,397.0 L170.1,401.6" stroke="#d8d8d8" stroke-width="1.15" stroke-linecap="round"/>
<path d="M157.2,372.9 L154.3,370.5" stroke="#848484" stroke-width="1.15" stroke-linecap="round"/>
<path d="M154.3,370.5 L151.4,368.2" stroke="#d8d8d8" stroke-width="1.15" stroke-linecap="round"/>
<path d="M157.7,386.2 L154.8,388.5" stroke="#848484" stroke-width="1.15" stroke-linecap="round"/>
<path d="M154.8,388.5 L151.9,390.9" stroke="#d8d8d8" stroke-width="1.15" stroke-linecap="round"/>
<path d="M178.7,372.9 L183.5,369.1" stroke="#848484" stroke-width="1.7" stroke-linecap="round"/>
<path d="M183.5,369.1 L188.3,365.4" stroke="#e8707a" stroke-width="1.7" stroke-linecap="round"/>
<path d="M188.3,365.4 L192.9,367.1" stroke="#e8707a" stroke-width="1.7" stroke-linecap="round"/>
<path d="M192.9,367.1 L197.6,368.9" stroke="#848484" stroke-width="1.7" stroke-linecap="round"/>
<path d="M197.6,368.9 L209.8,366.6" stroke="#848484" stroke-width="1.7" stroke-linecap="round"/>
<path d="M209.8,366.6 L220.3,369.4" stroke="#848484" stroke-width="1.7" stroke-linecap="round"/>
<path d="M220.3,369.4 L216.8,375.2" stroke="#848484" stroke-width="1.7" stroke-linecap="round"/>
<path d="M216.8,375.2 L205.1,378.3" stroke="#848484" stroke-width="1.7" stroke-linecap="round"/>
<path d="M205.1,378.3 L195.3,375.2" stroke="#848484" stroke-width="1.7" stroke-linecap="round"/>
<path d="M195.3,375.2 L197.6,368.9" stroke="#848484" stroke-width="1.7" stroke-linecap="round"/>
<path d="M209.8,366.6 L210.4,363.9" stroke="#848484" stroke-width="1.15" stroke-linecap="round"/>
<path d="M210.4,363.9 L211.0,361.2" stroke="#d8d8d8" stroke-width="1.15" stroke-linecap="round"/>
<path d="M220.3,369.4 L224.2,368.2" stroke="#848484" stroke-width="1.15" stroke-linecap="round"/>
<path d="M224.2,368.2 L228.0,367.0" stroke="#d8d8d8" stroke-width="1.15" stroke-linecap="round"/>
<path d="M216.8,375.2 L220.9,376.8" stroke="#848484" stroke-width="1.15" stroke-linecap="round"/>
<path d="M220.9,376.8 L225.0,378.3" stroke="#d8d8d8" stroke-width="1.15" stroke-linecap="round"/>
<path d="M205.1,378.3 L204.6,380.6" stroke="#848484" stroke-width="1.15" stroke-linecap="round"/>
<path d="M204.6,380.6 L204.0,382.9" stroke="#d8d8d8" stroke-width="1.15" stroke-linecap="round"/>
<path d="M195.3,375.2 L190.9,376.0" stroke="#848484" stroke-width="1.15" stroke-linecap="round"/>
<path d="M190.9,376.0 L186.4,376.9" stroke="#d8d8d8" stroke-width="1.15" stroke-linecap="round"/>
<circle cx="157.2" cy="372.9" r="2.55" fill="url(#gC)"/>
<circle cx="167.7" cy="366.6" r="2.55" fill="url(#gC)"/>
<circle cx="178.7" cy="372.9" r="2.55" fill="url(#gC)"/>
<circle cx="179.4" cy="385.7" r="2.55" fill="url(#gC)"/>
<circle cx="169.4" cy="392.3" r="2.55" fill="url(#gC)"/>
<circle cx="157.7" cy="386.2" r="2.55" fill="url(#gC)"/>
<circle cx="197.6" cy="368.9" r="2.55" fill="url(#gC)"/>
<circle cx="209.8" cy="366.6" r="2.55" fill="url(#gC)"/>
<circle cx="220.3" cy="369.4" r="2.55" fill="url(#gC)"/>
<circle cx="216.8" cy="375.2" r="2.55" fill="url(#gC)"/>
<circle cx="205.1" cy="378.3" r="2.55" fill="url(#gC)"/>
<circle cx="195.3" cy="375.2" r="2.55" fill="url(#gC)"/>
<circle cx="188.3" cy="365.4" r="2.4" fill="url(#gO)"/>
<circle cx="168.2" cy="356.5" r="1.5" fill="url(#gH)" stroke="#b0b0b0" stroke-width="0.35"/>
<circle cx="187.6" cy="389.9" r="1.5" fill="url(#gH)" stroke="#b0b0b0" stroke-width="0.35"/>
<circle cx="170.1" cy="401.6" r="1.5" fill="url(#gH)" stroke="#b0b0b0" stroke-width="0.35"/>
<circle cx="151.4" cy="368.2" r="1.5" fill="url(#gH)" stroke="#b0b0b0" stroke-width="0.35"/>
<circle cx="151.9" cy="390.9" r="1.5" fill="url(#gH)" stroke="#b0b0b0" stroke-width="0.35"/>
<circle cx="211.0" cy="361.2" r="1.5" fill="url(#gH)" stroke="#b0b0b0" stroke-width="0.35"/>
<circle cx="228.0" cy="367.0" r="1.5" fill="url(#gH)" stroke="#b0b0b0" stroke-width="0.35"/>
<circle cx="225.0" cy="378.3" r="1.5" fill="url(#gH)" stroke="#b0b0b0" stroke-width="0.35"/>
<circle cx="204.0" cy="382.9" r="1.5" fill="url(#gH)" stroke="#b0b0b0" stroke-width="0.35"/>
<circle cx="186.4" cy="376.9" r="1.5" fill="url(#gH)" stroke="#b0b0b0" stroke-width="0.35"/>
<path d="M128.0,334.3 L121.5,331.5" stroke="#848484" stroke-width="1.7" stroke-linecap="round"/>
<path d="M121.5,331.5 L118.2,341.4" stroke="#848484" stroke-width="1.7" stroke-linecap="round"/>
<path d="M118.2,341.4 L121.5,354.2" stroke="#848484" stroke-width="1.7" stroke-linecap="round"/>
<path d="M128.0,334.3 L128.8,343.5" stroke="#848484" stroke-width="1.7" stroke-linecap="round"/>
<path d="M128.8,343.5 L129.7,352.6" stroke="#5a8bbd" stroke-width="1.7" stroke-linecap="round"/>
<path d="M121.5,354.2 L125.6,353.4" stroke="#848484" stroke-width="1.7" stroke-linecap="round"/>
<path d="M125.6,353.4 L129.7,352.6" stroke="#5a8bbd" stroke-width="1.7" stroke-linecap="round"/>
<path d="M121.5,331.5 L120.7,328.9" stroke="#848484" stroke-width="1.15" stroke-linecap="round"/>
<path d="M120.7,328.9 L119.9,326.2" stroke="#d8d8d8" stroke-width="1.15" stroke-linecap="round"/>
<path d="M128.0,334.3 L132.1,332.6" stroke="#848484" stroke-width="1.15" stroke-linecap="round"/>
<path d="M132.1,332.6 L136.2,330.8" stroke="#d8d8d8" stroke-width="1.15" stroke-linecap="round"/>
<path d="M118.2,341.4 L115.5,341.4" stroke="#848484" stroke-width="1.15" stroke-linecap="round"/>
<path d="M115.5,341.4 L112.8,341.4" stroke="#d8d8d8" stroke-width="1.15" stroke-linecap="round"/>
<path d="M121.5,354.2 L117.8,357.7" stroke="#848484" stroke-width="1.15" stroke-linecap="round"/>
<path d="M117.8,357.7 L114.0,361.2" stroke="#d8d8d8" stroke-width="1.15" stroke-linecap="round"/>
<path d="M121.5,354.2 L125.3,356.2" stroke="#848484" stroke-width="1.15" stroke-linecap="round"/>
<path d="M125.3,356.2 L129.2,358.2" stroke="#d8d8d8" stroke-width="1.15" stroke-linecap="round"/>
<circle cx="129.7" cy="352.6" r="4.9" fill="url(#gPd)"/>
<circle cx="128.0" cy="334.3" r="2.55" fill="url(#gC)"/>
<circle cx="121.5" cy="331.5" r="2.55" fill="url(#gC)"/>
<circle cx="118.2" cy="341.4" r="2.55" fill="url(#gC)"/>
<circle cx="121.5" cy="354.2" r="2.55" fill="url(#gC)"/>
<circle cx="119.9" cy="326.2" r="1.5" fill="url(#gH)" stroke="#b0b0b0" stroke-width="0.35"/>
<circle cx="136.2" cy="330.8" r="1.5" fill="url(#gH)" stroke="#b0b0b0" stroke-width="0.35"/>
<circle cx="112.8" cy="341.4" r="1.5" fill="url(#gH)" stroke="#b0b0b0" stroke-width="0.35"/>
<circle cx="114.0" cy="361.2" r="1.5" fill="url(#gH)" stroke="#b0b0b0" stroke-width="0.35"/>
<circle cx="129.2" cy="358.2" r="1.5" fill="url(#gH)" stroke="#b0b0b0" stroke-width="0.35"/>
<path d="M128.0,406.3 L131.5,409.8" stroke="#5a8bbd" stroke-width="1.7" stroke-linecap="round"/>
<path d="M131.5,409.8 L135.0,413.3" stroke="#848484" stroke-width="1.7" stroke-linecap="round"/>
<path d="M128.0,406.3 L122.0,413.0" stroke="#5a8bbd" stroke-width="1.7" stroke-linecap="round"/>
<path d="M122.0,413.0 L115.9,419.6" stroke="#848484" stroke-width="1.7" stroke-linecap="round"/>
<path d="M135.0,413.3 L128.0,423.5" stroke="#848484" stroke-width="1.7" stroke-linecap="round"/>
<path d="M115.9,419.6 L111.2,417.6" stroke="#848484" stroke-width="1.15" stroke-linecap="round"/>
<path d="M111.2,417.6 L106.5,415.6" stroke="#d8d8d8" stroke-width="1.15" stroke-linecap="round"/>
<path d="M135.0,413.3 L139.7,414.1" stroke="#848484" stroke-width="1.15" stroke-linecap="round"/>
<path d="M139.7,414.1 L144.4,414.9" stroke="#d8d8d8" stroke-width="1.15" stroke-linecap="round"/>
<path d="M135.0,413.3 L134.4,409.5" stroke="#848484" stroke-width="1.15" stroke-linecap="round"/>
<path d="M134.4,409.5 L133.9,405.6" stroke="#d8d8d8" stroke-width="1.15" stroke-linecap="round"/>
<circle cx="128.0" cy="406.3" r="4.9" fill="url(#gPd)"/>
<circle cx="135.0" cy="413.3" r="2.55" fill="url(#gC)"/>
<circle cx="115.9" cy="419.6" r="2.55" fill="url(#gC)"/>
<circle cx="128.0" cy="423.5" r="2.55" fill="url(#gC)"/>
<circle cx="106.5" cy="415.6" r="1.5" fill="url(#gH)" stroke="#b0b0b0" stroke-width="0.35"/>
<circle cx="144.4" cy="414.9" r="1.5" fill="url(#gH)" stroke="#b0b0b0" stroke-width="0.35"/>
<circle cx="133.9" cy="405.6" r="1.5" fill="url(#gH)" stroke="#b0b0b0" stroke-width="0.35"/>
<path d="M166.3,335.4 L173.1,335.4 L179.7,350.1 L181.6,349.1 L182.5,362.9 L170.8,354.2 L175.6,352.4 Z" fill="url(#gArrow)"/>
<circle cx="274.1" cy="303.8" r="5.3" fill="url(#gPd)"/>
<circle cx="297.1" cy="304.4" r="5.3" fill="url(#gPd)"/>
<circle cx="322.6" cy="309.1" r="5.3" fill="url(#gPd)"/>
<circle cx="320.3" cy="303.1" r="5.3" fill="url(#gPd)"/>
<path d="M281.7,282.7 L277.9,293.2" stroke="#848484" stroke-width="1.5" stroke-linecap="round"/>
<path d="M277.9,293.2 L274.1,303.8" stroke="#5a8bbd" stroke-width="1.5" stroke-linecap="round"/>
<path d="M289.8,282.7 L293.5,293.5" stroke="#848484" stroke-width="1.5" stroke-linecap="round"/>
<path d="M293.5,293.5 L297.1,304.4" stroke="#5a8bbd" stroke-width="1.5" stroke-linecap="round"/>
<path d="M304.3,282.7 L300.7,293.5" stroke="#848484" stroke-width="1.5" stroke-linecap="round"/>
<path d="M300.7,293.5 L297.1,304.4" stroke="#5a8bbd" stroke-width="1.5" stroke-linecap="round"/>
<path d="M312.4,283.6 L316.4,293.4" stroke="#848484" stroke-width="1.5" stroke-linecap="round"/>
<path d="M316.4,293.4 L320.3,303.1" stroke="#5a8bbd" stroke-width="1.5" stroke-linecap="round"/>
<circle cx="310.0" cy="277.3" r="2.7" fill="url(#gO)"/>
<path d="M310.0,278.2 L318.5,279.2" stroke="#f0909a" stroke-width="1.3" stroke-linecap="round"/>
<path d="M281.7,282.7 L289.8,282.7" stroke="#848484" stroke-width="1.6" stroke-linecap="round"/>
<path d="M289.8,282.7 L304.3,282.7" stroke="#848484" stroke-width="1.6" stroke-linecap="round"/>
<path d="M304.3,282.7 L312.4,283.6" stroke="#848484" stroke-width="1.6" stroke-linecap="round"/>
<path d="M281.7,282.7 L277.2,280.8" stroke="#848484" stroke-width="1.15" stroke-linecap="round"/>
<path d="M277.2,280.8 L272.8,278.9" stroke="#d8d8d8" stroke-width="1.15" stroke-linecap="round"/>
<path d="M289.8,282.7 L287.1,281.3" stroke="#848484" stroke-width="1.15" stroke-linecap="round"/>
<path d="M287.1,281.3 L284.5,279.9" stroke="#d8d8d8" stroke-width="1.15" stroke-linecap="round"/>
<path d="M310.0,277.3 L317.5,278.1" stroke="#e8707a" stroke-width="1.4" stroke-linecap="round"/>
<path d="M317.5,278.1 L325.0,278.9" stroke="#e0e0e0" stroke-width="1.4" stroke-linecap="round"/>
<path d="M325.0,278.9 L331.3,265.7" stroke="#848484" stroke-width="1.6" stroke-linecap="round"/>
<path d="M331.3,265.7 L345.8,265.7" stroke="#848484" stroke-width="1.6" stroke-linecap="round"/>
<path d="M345.8,265.7 L352.4,279.3" stroke="#848484" stroke-width="1.6" stroke-linecap="round"/>
<path d="M352.4,279.3 L344.8,291.2" stroke="#848484" stroke-width="1.6" stroke-linecap="round"/>
<path d="M344.8,291.2 L330.7,291.2" stroke="#848484" stroke-width="1.6" stroke-linecap="round"/>
<path d="M330.7,291.2 L325.0,278.9" stroke="#848484" stroke-width="1.6" stroke-linecap="round"/>
<path d="M331.3,265.7 L329.1,261.5" stroke="#848484" stroke-width="1.15" stroke-linecap="round"/>
<path d="M329.1,261.5 L326.9,257.3" stroke="#d8d8d8" stroke-width="1.15" stroke-linecap="round"/>
<path d="M345.8,265.7 L348.8,261.8" stroke="#848484" stroke-width="1.15" stroke-linecap="round"/>
<path d="M348.8,261.8 L351.8,257.8" stroke="#d8d8d8" stroke-width="1.15" stroke-linecap="round"/>
<path d="M352.4,279.3 L357.6,279.3" stroke="#848484" stroke-width="1.15" stroke-linecap="round"/>
<path d="M357.6,279.3 L362.8,279.3" stroke="#d8d8d8" stroke-width="1.15" stroke-linecap="round"/>
<path d="M344.8,291.2 L347.2,295.9" stroke="#848484" stroke-width="1.15" stroke-linecap="round"/>
<path d="M347.2,295.9 L349.6,300.6" stroke="#d8d8d8" stroke-width="1.15" stroke-linecap="round"/>
<path d="M330.7,291.2 L328.5,293.8" stroke="#848484" stroke-width="1.15" stroke-linecap="round"/>
<path d="M328.5,293.8 L326.4,296.3" stroke="#d8d8d8" stroke-width="1.15" stroke-linecap="round"/>
<circle cx="274.1" cy="303.8" r="5.3" fill="url(#gPd)"/>
<circle cx="297.1" cy="304.4" r="5.3" fill="url(#gPd)"/>
<circle cx="320.3" cy="303.1" r="5.3" fill="url(#gPd)"/>
<circle cx="322.6" cy="309.1" r="5.3" fill="url(#gPd)"/>
<circle cx="281.7" cy="282.7" r="2.5" fill="url(#gC)"/>
<circle cx="289.8" cy="282.7" r="2.5" fill="url(#gC)"/>
<circle cx="304.3" cy="282.7" r="2.5" fill="url(#gC)"/>
<circle cx="312.4" cy="283.6" r="2.5" fill="url(#gC)"/>
<circle cx="325.0" cy="278.9" r="2.5" fill="url(#gC)"/>
<circle cx="331.3" cy="265.7" r="2.5" fill="url(#gC)"/>
<circle cx="345.8" cy="265.7" r="2.5" fill="url(#gC)"/>
<circle cx="352.4" cy="279.3" r="2.5" fill="url(#gC)"/>
<circle cx="344.8" cy="291.2" r="2.5" fill="url(#gC)"/>
<circle cx="330.7" cy="291.2" r="2.5" fill="url(#gC)"/>
<circle cx="310.0" cy="277.3" r="2.6" fill="url(#gO)"/>
<circle cx="272.8" cy="278.9" r="1.4" fill="url(#gH)" stroke="#b0b0b0" stroke-width="0.35"/>
<circle cx="284.5" cy="279.9" r="1.4" fill="url(#gH)" stroke="#b0b0b0" stroke-width="0.35"/>
<circle cx="326.9" cy="257.3" r="1.4" fill="url(#gH)" stroke="#b0b0b0" stroke-width="0.35"/>
<circle cx="351.8" cy="257.8" r="1.4" fill="url(#gH)" stroke="#b0b0b0" stroke-width="0.35"/>
<circle cx="362.8" cy="279.3" r="1.4" fill="url(#gH)" stroke="#b0b0b0" stroke-width="0.35"/>
<circle cx="349.6" cy="300.6" r="1.4" fill="url(#gH)" stroke="#b0b0b0" stroke-width="0.35"/>
<circle cx="326.4" cy="296.3" r="1.4" fill="url(#gH)" stroke="#b0b0b0" stroke-width="0.35"/>
<circle cx="320.3" cy="278.9" r="1.4" fill="url(#gH)" stroke="#b0b0b0" stroke-width="0.35"/>
<path d="M305.2,311.9 L315.1,292.9" stroke="#111" stroke-width="1.3" marker-end="url(#ah2)"/>
<text x="304.3" y="320" font-size="8.4" font-weight="bold" text-anchor="middle" fill="#000" font-family="Liberation Sans, sans-serif">2.176 <tspan font-family="Liberation Serif, serif">Å</tspan></text>
<text x="303.1" y="360.6" font-size="8.4" font-weight="bold" text-anchor="middle" fill="#000" font-family="Liberation Sans, sans-serif">2.278 <tspan font-family="Liberation Serif, serif">Å</tspan></text>
<path d="M302.6,364.6 L311.4,381.9" stroke="#111" stroke-width="1.3" marker-end="url(#ah2)"/>
<path d="M268.6,370.6 L282.4,376.5" stroke="#848484" stroke-width="1.7" stroke-linecap="round"/>
<path d="M268.6,370.6 L260.3,378.9" stroke="#848484" stroke-width="1.7" stroke-linecap="round"/>
<path d="M260.3,378.9 L265.6,391.9" stroke="#848484" stroke-width="1.7" stroke-linecap="round"/>
<path d="M265.6,391.9 L275.0,393.6" stroke="#848484" stroke-width="1.7" stroke-linecap="round"/>
<path d="M275.0,393.6 L284.3,395.3" stroke="#5a8bbd" stroke-width="1.7" stroke-linecap="round"/>
<path d="M282.4,376.5 L283.4,385.9" stroke="#848484" stroke-width="1.7" stroke-linecap="round"/>
<path d="M283.4,385.9 L284.3,395.3" stroke="#5a8bbd" stroke-width="1.7" stroke-linecap="round"/>
<path d="M268.6,370.6 L266.9,366.9" stroke="#848484" stroke-width="1.15" stroke-linecap="round"/>
<path d="M266.9,366.9 L265.2,363.1" stroke="#d8d8d8" stroke-width="1.15" stroke-linecap="round"/>
<path d="M282.4,376.5 L286.0,373.6" stroke="#848484" stroke-width="1.15" stroke-linecap="round"/>
<path d="M286.0,373.6 L289.7,370.6" stroke="#d8d8d8" stroke-width="1.15" stroke-linecap="round"/>
<path d="M260.3,378.9 L255.6,377.2" stroke="#848484" stroke-width="1.15" stroke-linecap="round"/>
<path d="M255.6,377.2 L250.8,375.5" stroke="#d8d8d8" stroke-width="1.15" stroke-linecap="round"/>
<path d="M265.6,391.9 L262.6,395.9" stroke="#848484" stroke-width="1.15" stroke-linecap="round"/>
<path d="M262.6,395.9 L259.7,399.8" stroke="#d8d8d8" stroke-width="1.15" stroke-linecap="round"/>
<circle cx="284.3" cy="395.3" r="4.8" fill="url(#gPd)"/>
<circle cx="268.6" cy="370.6" r="2.55" fill="url(#gC)"/>
<circle cx="282.4" cy="376.5" r="2.55" fill="url(#gC)"/>
<circle cx="260.3" cy="378.9" r="2.55" fill="url(#gC)"/>
<circle cx="265.6" cy="391.9" r="2.55" fill="url(#gC)"/>
<circle cx="265.2" cy="363.1" r="1.5" fill="url(#gH)" stroke="#b0b0b0" stroke-width="0.35"/>
<circle cx="289.7" cy="370.6" r="1.5" fill="url(#gH)" stroke="#b0b0b0" stroke-width="0.35"/>
<circle cx="250.8" cy="375.5" r="1.5" fill="url(#gH)" stroke="#b0b0b0" stroke-width="0.35"/>
<circle cx="259.7" cy="399.8" r="1.5" fill="url(#gH)" stroke="#b0b0b0" stroke-width="0.35"/>
<circle cx="286.0" cy="373.5" r="1.5" fill="url(#gH)" stroke="#b0b0b0" stroke-width="0.35"/>
<path d="M310.1,394.6 L314.0,384.0" stroke="#5a8bbd" stroke-width="1.6" stroke-linecap="round"/>
<path d="M314.0,384.0 L316.3,377.8" stroke="#c8c8c8" stroke-width="1.6" stroke-linecap="round"/>
<circle cx="309.0" cy="394.6" r="5.1" fill="url(#gPd)"/>
<circle cx="311.4" cy="395.0" r="5.1" fill="url(#gPd)"/>
<path d="M317.9,374.5 L331.7,374.2" stroke="#848484" stroke-width="1.7" stroke-linecap="round"/>
<path d="M331.7,374.2 L341.5,377.8" stroke="#848484" stroke-width="1.7" stroke-linecap="round"/>
<path d="M341.5,377.8 L347.2,377.0" stroke="#848484" stroke-width="1.7" stroke-linecap="round"/>
<path d="M347.2,377.0 L353.7,372.9" stroke="#848484" stroke-width="1.7" stroke-linecap="round"/>
<path d="M353.7,372.9 L352.1,381.9" stroke="#848484" stroke-width="1.7" stroke-linecap="round"/>
<path d="M317.9,374.5 L327.3,381.0" stroke="#848484" stroke-width="1.7" stroke-linecap="round"/>
<path d="M327.3,381.0 L341.5,377.8" stroke="#848484" stroke-width="1.7" stroke-linecap="round"/>
<path d="M331.7,374.2 L333.7,383.1" stroke="#848484" stroke-width="1.7" stroke-linecap="round"/>
<path d="M333.7,383.1 L336.1,394.1" stroke="#5a8bbd" stroke-width="1.7" stroke-linecap="round"/>
<path d="M341.5,377.8 L339.1,385.1" stroke="#848484" stroke-width="1.7" stroke-linecap="round"/>
<path d="M339.1,385.1 L336.1,394.1" stroke="#5a8bbd" stroke-width="1.7" stroke-linecap="round"/>
<path d="M325.2,384.6 L330.1,388.9" stroke="#e8707a" stroke-width="1.7" stroke-linecap="round"/>
<path d="M330.1,388.9 L336.1,394.1" stroke="#5a8bbd" stroke-width="1.7" stroke-linecap="round"/>
<path d="M352.1,381.9 L344.0,394.1" stroke="#d0d0d0" stroke-width="2.2" stroke-linecap="round"/>
<path d="M352.1,381.9 L344.0,394.1" stroke="#8a8a8a" stroke-width="0.7" stroke-linecap="round"/>
<path d="M344.0,394.1 L340.0,394.1" stroke="#848484" stroke-width="1.7" stroke-linecap="round"/>
<path d="M340.0,394.1 L336.1,394.1" stroke="#5a8bbd" stroke-width="1.7" stroke-linecap="round"/>
<path d="M344.0,394.1 L348.8,407.9" stroke="#848484" stroke-width="1.7" stroke-linecap="round"/>
<path d="M336.1,394.1 L337.1,400.4" stroke="#5a8bbd" stroke-width="1.7" stroke-linecap="round"/>
<path d="M337.1,400.4 L337.8,404.7" stroke="#848484" stroke-width="1.7" stroke-linecap="round"/>
<path d="M337.8,404.7 L345.6,412.3" stroke="#848484" stroke-width="1.7" stroke-linecap="round"/>
<path d="M348.8,407.9 L345.6,412.3" stroke="#848484" stroke-width="1.7" stroke-linecap="round"/>
<path d="M317.9,374.5 L314.2,371.7" stroke="#848484" stroke-width="1.15" stroke-linecap="round"/>
<path d="M314.2,371.7 L310.6,368.8" stroke="#d8d8d8" stroke-width="1.15" stroke-linecap="round"/>
<path d="M317.9,374.5 L312.2,375.2" stroke="#848484" stroke-width="1.15" stroke-linecap="round"/>
<path d="M312.2,375.2 L306.5,375.8" stroke="#d8d8d8" stroke-width="1.15" stroke-linecap="round"/>
<path d="M331.7,374.2 L332.2,371.5" stroke="#848484" stroke-width="1.15" stroke-linecap="round"/>
<path d="M332.2,371.5 L332.6,368.8" stroke="#d8d8d8" stroke-width="1.15" stroke-linecap="round"/>
<path d="M341.5,377.8 L340.3,373.6" stroke="#848484" stroke-width="1.15" stroke-linecap="round"/>
<path d="M340.3,373.6 L339.1,369.3" stroke="#d8d8d8" stroke-width="1.15" stroke-linecap="round"/>
<path d="M353.7,372.9 L357.1,369.0" stroke="#848484" stroke-width="1.15" stroke-linecap="round"/>
<path d="M357.1,369.0 L360.6,365.1" stroke="#d8d8d8" stroke-width="1.15" stroke-linecap="round"/>
<path d="M352.1,381.9 L354.5,380.8" stroke="#848484" stroke-width="1.15" stroke-linecap="round"/>
<path d="M354.5,380.8 L357.0,379.7" stroke="#d8d8d8" stroke-width="1.15" stroke-linecap="round"/>
<path d="M337.8,404.7 L336.4,406.3" stroke="#848484" stroke-width="1.15" stroke-linecap="round"/>
<path d="M336.4,406.3 L335.0,407.9" stroke="#d8d8d8" stroke-width="1.15" stroke-linecap="round"/>
<path d="M348.8,407.9 L351.7,411.6" stroke="#848484" stroke-width="1.15" stroke-linecap="round"/>
<path d="M351.7,411.6 L354.5,415.2" stroke="#d8d8d8" stroke-width="1.15" stroke-linecap="round"/>
<path d="M345.6,412.3 L347.2,417.0" stroke="#848484" stroke-width="1.15" stroke-linecap="round"/>
<path d="M347.2,417.0 L348.8,421.7" stroke="#d8d8d8" stroke-width="1.15" stroke-linecap="round"/>
<path d="M348.8,407.9 L348.7,405.1" stroke="#848484" stroke-width="1.15" stroke-linecap="round"/>
<path d="M348.7,405.1 L348.5,402.2" stroke="#d8d8d8" stroke-width="1.15" stroke-linecap="round"/>
<circle cx="325.2" cy="384.6" r="2.5" fill="url(#gO)"/>
<circle cx="336.1" cy="394.1" r="5.2" fill="url(#gPd)"/>
<circle cx="317.9" cy="374.5" r="2.55" fill="url(#gC)"/>
<circle cx="331.7" cy="374.2" r="2.55" fill="url(#gC)"/>
<circle cx="341.5" cy="377.8" r="2.55" fill="url(#gC)"/>
<circle cx="353.7" cy="372.9" r="2.55" fill="url(#gC)"/>
<circle cx="352.1" cy="381.9" r="2.55" fill="url(#gC)"/>
<circle cx="327.3" cy="381.0" r="2.55" fill="url(#gC)"/>
<circle cx="344.0" cy="394.1" r="2.55" fill="url(#gC)"/>
<circle cx="337.8" cy="404.7" r="2.55" fill="url(#gC)"/>
<circle cx="348.8" cy="407.9" r="2.55" fill="url(#gC)"/>
<circle cx="345.6" cy="412.3" r="2.55" fill="url(#gC)"/>
<circle cx="347.2" cy="377.0" r="2.55" fill="url(#gC)"/>
<circle cx="310.6" cy="368.8" r="1.5" fill="url(#gH)" stroke="#b0b0b0" stroke-width="0.35"/>
<circle cx="306.5" cy="375.8" r="1.5" fill="url(#gH)" stroke="#b0b0b0" stroke-width="0.35"/>
<circle cx="332.6" cy="368.8" r="1.5" fill="url(#gH)" stroke="#b0b0b0" stroke-width="0.35"/>
<circle cx="339.1" cy="369.3" r="1.5" fill="url(#gH)" stroke="#b0b0b0" stroke-width="0.35"/>
<circle cx="360.6" cy="365.1" r="1.5" fill="url(#gH)" stroke="#b0b0b0" stroke-width="0.35"/>
<circle cx="357.0" cy="379.7" r="1.5" fill="url(#gH)" stroke="#b0b0b0" stroke-width="0.35"/>
<circle cx="335.0" cy="407.9" r="1.5" fill="url(#gH)" stroke="#b0b0b0" stroke-width="0.35"/>
<circle cx="354.5" cy="415.2" r="1.5" fill="url(#gH)" stroke="#b0b0b0" stroke-width="0.35"/>
<circle cx="348.8" cy="421.7" r="1.5" fill="url(#gH)" stroke="#b0b0b0" stroke-width="0.35"/>
<circle cx="348.5" cy="402.2" r="1.5" fill="url(#gH)" stroke="#b0b0b0" stroke-width="0.35"/>
<circle cx="334.8" cy="393.7" r="1.5" fill="url(#gH)" stroke="#b0b0b0" stroke-width="0.35"/>
<clipPath id="ce1"><rect x="407" y="272.4" width="75" height="46.80000000000001" rx="3" ry="3"/><rect x="407" y="227.39999999999998" width="75" height="45.2"/></clipPath>
<g clip-path="url(#ce1)">
<rect x="406" y="272" width="77" height="48" fill="#3a6289"/>
<circle cx="416.0" cy="318.0" r="10" fill="url(#gPd)"/>
<circle cx="447.1" cy="316.5" r="10" fill="url(#gPd)"/>
<circle cx="478.0" cy="318.0" r="10" fill="url(#gPd)"/>
<circle cx="416.6" cy="300.3" r="10" fill="url(#gPd)"/>
<circle cx="476.7" cy="298.6" r="10" fill="url(#gPd)"/>
<circle cx="433.1" cy="306.4" r="10" fill="url(#gPd)"/>
<circle cx="461.9" cy="306.4" r="10" fill="url(#gPd)"/>
<circle cx="414.8" cy="281.1" r="10" fill="url(#gPd)"/>
<circle cx="476.7" cy="280.3" r="10" fill="url(#gPd)"/>
<circle cx="429.7" cy="287.2" r="10" fill="url(#gPd)"/>
<circle cx="461.9" cy="286.4" r="10" fill="url(#gPd)"/>
<circle cx="447.1" cy="293.4" r="10" fill="url(#gPd)"/>
<circle cx="445.4" cy="261.6" r="10" fill="url(#gPd)"/>
<circle cx="430.5" cy="267.0" r="10" fill="url(#gPd)"/>
<circle cx="461.9" cy="267.0" r="10" fill="url(#gPd)"/>
<circle cx="447.1" cy="273.0" r="10" fill="url(#gPd)"/>
<circle cx="416.0" cy="279.4" r="4.9" fill="url(#gC)"/>
<circle cx="424.8" cy="282.9" r="4.9" fill="url(#gC)"/>
<circle cx="416.0" cy="271.5" r="2.8" fill="url(#gH)"/>
<circle cx="430.0" cy="276.8" r="2.8" fill="url(#gH)"/>
<circle cx="410.5" cy="284.6" r="2.8" fill="url(#gH)"/>
<circle cx="424.1" cy="289.9" r="2.8" fill="url(#gH)"/>
</g>
<clipPath id="ce2"><rect x="407.3" y="376" width="74.59999999999997" height="54" rx="0" ry="0"/><rect x="407.3" y="334" width="74.59999999999997" height="42.2"/></clipPath>
<g clip-path="url(#ce2)">
<rect x="406" y="390" width="77" height="40" fill="#3a6289"/>
<circle cx="396.9" cy="398.2" r="10" fill="url(#gPd)"/>
<circle cx="493.3" cy="398.2" r="10" fill="url(#gPd)"/>
<circle cx="414.5" cy="403.4" r="10" fill="url(#gPd)"/>
<circle cx="476.7" cy="400.3" r="10" fill="url(#gPd)"/>
<circle cx="429.0" cy="410.7" r="10" fill="url(#gPd)"/>
<circle cx="462.2" cy="408.6" r="10" fill="url(#gPd)"/>
<circle cx="446.7" cy="416.9" r="10" fill="url(#gPd)"/>
<circle cx="412.4" cy="424.1" r="10" fill="url(#gPd)"/>
<circle cx="479.8" cy="423.1" r="10" fill="url(#gPd)"/>
<circle cx="413.5" cy="384.7" r="10" fill="url(#gPd)"/>
<circle cx="473.6" cy="385.8" r="10" fill="url(#gPd)"/>
<circle cx="428.0" cy="388.9" r="10" fill="url(#gPd)"/>
<circle cx="460.1" cy="388.9" r="10" fill="url(#gPd)"/>
<circle cx="445.6" cy="396.1" r="10" fill="url(#gPd)"/>
<circle cx="444.6" cy="365.0" r="10" fill="url(#gPd)"/>
<circle cx="428.0" cy="369.2" r="10" fill="url(#gPd)"/>
<circle cx="460.1" cy="370.2" r="10" fill="url(#gPd)"/>
<circle cx="445.6" cy="376.4" r="10" fill="url(#gPd)"/>
<circle cx="412.4" cy="352.6" r="5.3" fill="url(#gC)"/>
<circle cx="413.5" cy="363.0" r="5.3" fill="url(#gC)"/>
<circle cx="420.7" cy="347.4" r="5.3" fill="url(#gC)"/>
<circle cx="430.1" cy="354.7" r="5.3" fill="url(#gC)"/>
<circle cx="414.9" cy="385.8" r="4.7" fill="url(#gC)"/>
<circle cx="423.2" cy="380.0" r="4.7" fill="url(#gC)"/>
<circle cx="429.4" cy="407.5" r="4.9" fill="url(#gC)"/>
<circle cx="427.0" cy="417.9" r="4.9" fill="url(#gC)"/>
<circle cx="464.3" cy="407.5" r="4.9" fill="url(#gC)"/>
<circle cx="473.6" cy="409.0" r="4.9" fill="url(#gC)"/>
<circle cx="480.5" cy="413.1" r="4.9" fill="url(#gC)"/>
<circle cx="419.7" cy="424.1" r="4.9" fill="url(#gC)"/>
<circle cx="420.7" cy="339.7" r="3.0" fill="url(#gH)"/>
<circle cx="414.1" cy="364.6" r="3.0" fill="url(#gH)"/>
<circle cx="407.9" cy="369.2" r="3.0" fill="url(#gH)"/>
<circle cx="424.9" cy="372.3" r="3.0" fill="url(#gH)"/>
<circle cx="428.0" cy="384.1" r="3.0" fill="url(#gH)"/>
<circle cx="410.0" cy="380.6" r="3.0" fill="url(#gH)"/>
<circle cx="412.9" cy="392.4" r="3.0" fill="url(#gH)"/>
<circle cx="424.9" cy="401.9" r="3.0" fill="url(#gH)"/>
<circle cx="438.4" cy="405.9" r="3.0" fill="url(#gH)"/>
<circle cx="429.0" cy="419.4" r="3.0" fill="url(#gH)"/>
<circle cx="414.5" cy="422.1" r="3.0" fill="url(#gH)"/>
<circle cx="461.2" cy="398.6" r="3.0" fill="url(#gH)"/>
<circle cx="458.5" cy="412.7" r="3.0" fill="url(#gH)"/>
<circle cx="476.7" cy="406.9" r="3.0" fill="url(#gH)"/>
<circle cx="476.7" cy="422.1" r="3.0" fill="url(#gH)"/>
</g>
<text x="436.3" y="354.4" font-size="7.6" font-weight="bold" text-anchor="middle" fill="#000" font-family="Liberation Sans, sans-serif" >H</text>
<text x="423.8" y="382.8" font-size="7.6" font-weight="bold" text-anchor="middle" fill="#000" font-family="Liberation Sans, sans-serif" >C</text>
<text x="446.7" y="419.7" font-size="7.6" font-weight="bold" text-anchor="middle" fill="#000" font-family="Liberation Sans, sans-serif" >Pd</text>
<circle cx="556.0" cy="258.3" r="5" fill="url(#gPd)"/>
<circle cx="530.7" cy="265.3" r="5" fill="url(#gPd)"/>
<circle cx="573.1" cy="276.5" r="5" fill="url(#gPd)"/>
<circle cx="548.4" cy="283.0" r="5" fill="url(#gPd)"/>
<circle cx="523.8" cy="290.1" r="5" fill="url(#gPd)"/>
<circle cx="566.0" cy="301.6" r="5" fill="url(#gPd)"/>
<circle cx="541.8" cy="308.6" r="5" fill="url(#gPd)"/>
<path d="M549.3,275.4 L545.7,287.4" stroke="#848484" stroke-width="1.8" stroke-linecap="round"/>
<path d="M549.1999999999999,276.4 L546.0,286.4" stroke="#e6e6e6" stroke-width="0.5"/>
<path d="M549.3,275.4 L546.0,271.5" stroke="#848484" stroke-width="1.15" stroke-linecap="round"/>
<path d="M546.0,271.5 L542.7,267.6" stroke="#d8d8d8" stroke-width="1.15" stroke-linecap="round"/>
<path d="M549.3,275.4 L554.0,273.9" stroke="#848484" stroke-width="1.15" stroke-linecap="round"/>
<path d="M554.0,273.9 L558.6,272.4" stroke="#d8d8d8" stroke-width="1.15" stroke-linecap="round"/>
<path d="M545.7,287.4 L541.1,288.8" stroke="#848484" stroke-width="1.15" stroke-linecap="round"/>
<path d="M541.1,288.8 L536.5,290.1" stroke="#d8d8d8" stroke-width="1.15" stroke-linecap="round"/>
<path d="M545.7,287.4 L548.8,290.9" stroke="#848484" stroke-width="1.15" stroke-linecap="round"/>
<path d="M548.8,290.9 L551.9,294.5" stroke="#d8d8d8" stroke-width="1.15" stroke-linecap="round"/>
<circle cx="549.3" cy="275.4" r="2.55" fill="url(#gC)"/>
<circle cx="545.7" cy="287.4" r="2.55" fill="url(#gC)"/>
<circle cx="542.7" cy="267.6" r="1.5" fill="url(#gH)" stroke="#b0b0b0" stroke-width="0.35"/>
<circle cx="558.6" cy="272.4" r="1.5" fill="url(#gH)" stroke="#b0b0b0" stroke-width="0.35"/>
<circle cx="536.5" cy="290.1" r="1.5" fill="url(#gH)" stroke="#b0b0b0" stroke-width="0.35"/>
<circle cx="551.9" cy="294.5" r="1.5" fill="url(#gH)" stroke="#b0b0b0" stroke-width="0.35"/>
<path d="M632.1,271.0 L635.4,280.8" stroke="#848484" stroke-width="1.5" stroke-linecap="round"/>
<path d="M635.4,280.8 L638.7,290.6" stroke="#5a8bbd" stroke-width="1.5" stroke-linecap="round"/>
<path d="M645.4,271.0 L642.0,280.8" stroke="#848484" stroke-width="1.5" stroke-linecap="round"/>
<path d="M642.0,280.8 L638.7,290.6" stroke="#5a8bbd" stroke-width="1.5" stroke-linecap="round"/>
<path d="M632.1,271.0 L645.4,271.0" stroke="#848484" stroke-width="2.1" stroke-linecap="round"/>
<path d="M633.6,271 L643.9,271" stroke="#dcdcdc" stroke-width="0.5"/>
<path d="M632.1,271.0 L629.5,270.2" stroke="#848484" stroke-width="1.15" stroke-linecap="round"/>
<path d="M629.5,270.2 L626.8,269.4" stroke="#d8d8d8" stroke-width="1.15" stroke-linecap="round"/>
<path d="M645.4,271.0 L648.0,269.9" stroke="#848484" stroke-width="1.15" stroke-linecap="round"/>
<path d="M648.0,269.9 L650.7,268.9" stroke="#d8d8d8" stroke-width="1.15" stroke-linecap="round"/>
<circle cx="612.3" cy="294.5" r="5.3" fill="url(#gPd)"/>
<circle cx="638.7" cy="290.6" r="5.3" fill="url(#gPd)"/>
<circle cx="666.1" cy="294.2" r="5.3" fill="url(#gPd)"/>
<circle cx="632.1" cy="271.0" r="2.4" fill="url(#gC)"/>
<circle cx="645.4" cy="271.0" r="2.4" fill="url(#gC)"/>
<circle cx="626.8" cy="269.4" r="1.5" fill="url(#gH)" stroke="#b0b0b0" stroke-width="0.35"/>
<circle cx="650.7" cy="268.9" r="1.5" fill="url(#gH)" stroke="#b0b0b0" stroke-width="0.35"/>
<text x="645.2" y="283.2" font-size="8.4" font-weight="bold" fill="#000" font-family="Liberation Sans, sans-serif">2.241 <tspan font-family="Liberation Serif, serif">Å</tspan></text>
<path d="M631.8,361.6 L635.7,372.3" stroke="#848484" stroke-width="1.5" stroke-linecap="round"/>
<path d="M635.7,372.3 L639.6,383.0" stroke="#5a8bbd" stroke-width="1.5" stroke-linecap="round"/>
<path d="M645.4,361.6 L642.5,372.3" stroke="#848484" stroke-width="1.5" stroke-linecap="round"/>
<path d="M642.5,372.3 L639.6,383.0" stroke="#5a8bbd" stroke-width="1.5" stroke-linecap="round"/>
<path d="M631.8,361.6 L645.4,361.6" stroke="#848484" stroke-width="2.1" stroke-linecap="round"/>
<path d="M633.3,361.6 L643.9,361.6" stroke="#dcdcdc" stroke-width="0.5"/>
<path d="M631.8,361.6 L629.3,360.7" stroke="#848484" stroke-width="1.15" stroke-linecap="round"/>
<path d="M629.3,360.7 L626.8,359.8" stroke="#d8d8d8" stroke-width="1.15" stroke-linecap="round"/>
<path d="M645.4,361.6 L648.0,360.5" stroke="#848484" stroke-width="1.15" stroke-linecap="round"/>
<path d="M648.0,360.5 L650.7,359.4" stroke="#d8d8d8" stroke-width="1.15" stroke-linecap="round"/>
<circle cx="613.2" cy="387.7" r="5.3" fill="url(#gPd)"/>
<circle cx="639.6" cy="383.0" r="5.3" fill="url(#gPd)"/>
<circle cx="666.1" cy="386.3" r="5.3" fill="url(#gPd)"/>
<circle cx="631.8" cy="361.6" r="2.4" fill="url(#gC)"/>
<circle cx="645.4" cy="361.6" r="2.4" fill="url(#gC)"/>
<circle cx="626.8" cy="359.8" r="1.5" fill="url(#gH)" stroke="#b0b0b0" stroke-width="0.35"/>
<circle cx="650.7" cy="359.4" r="1.5" fill="url(#gH)" stroke="#b0b0b0" stroke-width="0.35"/>
<text x="646.4" y="373.2" font-size="8.4" font-weight="bold" fill="#000" font-family="Liberation Sans, sans-serif">2.278 <tspan font-family="Liberation Serif, serif">Å</tspan></text>
<circle cx="550.3" cy="355.4" r="5" fill="url(#gPd)"/>
<circle cx="568.7" cy="372.4" r="5" fill="url(#gPd)"/>
<circle cx="544.2" cy="380.3" r="5" fill="url(#gPd)"/>
<circle cx="518.7" cy="386.2" r="5" fill="url(#gPd)"/>
<circle cx="537.4" cy="404.4" r="5" fill="url(#gPd)"/>
<path d="M519.9,342.5 L509.9,342.5" stroke="#848484" stroke-width="1.7" stroke-linecap="round"/>
<path d="M509.9,342.5 L505.9,353.0" stroke="#848484" stroke-width="1.7" stroke-linecap="round"/>
<path d="M505.9,353.0 L513.4,363.5" stroke="#848484" stroke-width="1.7" stroke-linecap="round"/>
<path d="M519.9,342.5 L522.8,351.6" stroke="#848484" stroke-width="1.7" stroke-linecap="round"/>
<path d="M522.8,351.6 L525.7,360.7" stroke="#5a8bbd" stroke-width="1.7" stroke-linecap="round"/>
<path d="M513.4,363.5 L519.5,362.1" stroke="#848484" stroke-width="1.7" stroke-linecap="round"/>
<path d="M519.5,362.1 L525.7,360.7" stroke="#5a8bbd" stroke-width="1.7" stroke-linecap="round"/>
<path d="M509.9,342.5 L507.3,338.4" stroke="#848484" stroke-width="1.15" stroke-linecap="round"/>
<path d="M507.3,338.4 L504.7,334.3" stroke="#d8d8d8" stroke-width="1.15" stroke-linecap="round"/>
<path d="M519.9,342.5 L523.6,340.4" stroke="#848484" stroke-width="1.15" stroke-linecap="round"/>
<path d="M523.6,340.4 L527.4,338.3" stroke="#d8d8d8" stroke-width="1.15" stroke-linecap="round"/>
<path d="M505.9,353.0 L502.4,353.0" stroke="#848484" stroke-width="1.15" stroke-linecap="round"/>
<path d="M502.4,353.0 L498.9,353.0" stroke="#d8d8d8" stroke-width="1.15" stroke-linecap="round"/>
<path d="M513.4,363.5 L510.8,367.6" stroke="#848484" stroke-width="1.15" stroke-linecap="round"/>
<path d="M510.8,367.6 L508.2,371.7" stroke="#d8d8d8" stroke-width="1.15" stroke-linecap="round"/>
<path d="M513.4,363.5 L516.0,365.1" stroke="#848484" stroke-width="1.15" stroke-linecap="round"/>
<path d="M516.0,365.1 L518.5,366.6" stroke="#d8d8d8" stroke-width="1.15" stroke-linecap="round"/>
<circle cx="525.7" cy="360.7" r="5" fill="url(#gPd)"/>
<circle cx="519.9" cy="342.5" r="2.55" fill="url(#gC)"/>
<circle cx="509.9" cy="342.5" r="2.55" fill="url(#gC)"/>
<circle cx="505.9" cy="353.0" r="2.55" fill="url(#gC)"/>
<circle cx="513.4" cy="363.5" r="2.55" fill="url(#gC)"/>
<circle cx="504.7" cy="334.3" r="1.5" fill="url(#gH)" stroke="#b0b0b0" stroke-width="0.35"/>
<circle cx="527.4" cy="338.3" r="1.5" fill="url(#gH)" stroke="#b0b0b0" stroke-width="0.35"/>
<circle cx="498.9" cy="353.0" r="1.5" fill="url(#gH)" stroke="#b0b0b0" stroke-width="0.35"/>
<circle cx="508.2" cy="371.7" r="1.5" fill="url(#gH)" stroke="#b0b0b0" stroke-width="0.35"/>
<circle cx="518.5" cy="366.6" r="1.5" fill="url(#gH)" stroke="#b0b0b0" stroke-width="0.35"/>
<path d="M576.4,393.2 L585.8,403.2" stroke="#848484" stroke-width="1.7" stroke-linecap="round"/>
<path d="M585.8,403.2 L583.4,413.3" stroke="#848484" stroke-width="1.7" stroke-linecap="round"/>
<path d="M583.4,413.3 L573.4,414.2" stroke="#848484" stroke-width="1.7" stroke-linecap="round"/>
<path d="M573.4,414.2 L569.0,406.0" stroke="#848484" stroke-width="1.7" stroke-linecap="round"/>
<path d="M569.0,406.0 L564.7,397.9" stroke="#5a8bbd" stroke-width="1.7" stroke-linecap="round"/>
<path d="M576.4,393.2 L570.5,395.5" stroke="#848484" stroke-width="1.7" stroke-linecap="round"/>
<path d="M570.5,395.5 L564.7,397.9" stroke="#5a8bbd" stroke-width="1.7" stroke-linecap="round"/>
<path d="M576.4,393.2 L577.8,389.2" stroke="#848484" stroke-width="1.15" stroke-linecap="round"/>
<path d="M577.8,389.2 L579.2,385.3" stroke="#d8d8d8" stroke-width="1.15" stroke-linecap="round"/>
<path d="M585.8,403.2 L589.3,402.4" stroke="#848484" stroke-width="1.15" stroke-linecap="round"/>
<path d="M589.3,402.4 L592.8,401.6" stroke="#d8d8d8" stroke-width="1.15" stroke-linecap="round"/>
<path d="M583.4,413.3 L586.9,417.1" stroke="#848484" stroke-width="1.15" stroke-linecap="round"/>
<path d="M586.9,417.1 L590.4,420.8" stroke="#d8d8d8" stroke-width="1.15" stroke-linecap="round"/>
<path d="M573.4,414.2 L570.0,417.2" stroke="#848484" stroke-width="1.15" stroke-linecap="round"/>
<path d="M570.0,417.2 L566.6,420.3" stroke="#d8d8d8" stroke-width="1.15" stroke-linecap="round"/>
<path d="M576.4,393.2 L573.5,392.9" stroke="#848484" stroke-width="1.15" stroke-linecap="round"/>
<path d="M573.5,392.9 L570.6,392.7" stroke="#d8d8d8" stroke-width="1.15" stroke-linecap="round"/>
<circle cx="564.7" cy="397.9" r="5" fill="url(#gPd)"/>
<circle cx="576.4" cy="393.2" r="2.55" fill="url(#gC)"/>
<circle cx="585.8" cy="403.2" r="2.55" fill="url(#gC)"/>
<circle cx="583.4" cy="413.3" r="2.55" fill="url(#gC)"/>
<circle cx="573.4" cy="414.2" r="2.55" fill="url(#gC)"/>
<circle cx="579.2" cy="385.3" r="1.5" fill="url(#gH)" stroke="#b0b0b0" stroke-width="0.35"/>
<circle cx="592.8" cy="401.6" r="1.5" fill="url(#gH)" stroke="#b0b0b0" stroke-width="0.35"/>
<circle cx="590.4" cy="420.8" r="1.5" fill="url(#gH)" stroke="#b0b0b0" stroke-width="0.35"/>
<circle cx="566.6" cy="420.3" r="1.5" fill="url(#gH)" stroke="#b0b0b0" stroke-width="0.35"/>
<circle cx="570.6" cy="392.7" r="1.5" fill="url(#gH)" stroke="#b0b0b0" stroke-width="0.35"/>
<path d="M547.7,374.5 L541.4,386.2" stroke="#848484" stroke-width="2.0" stroke-linecap="round"/>
<path d="M547.3000000000001,376.1 L541.9,384.59999999999997" stroke="#e6e6e6" stroke-width="0.5"/>
<path d="M547.7,374.5 L545.7,370.8" stroke="#848484" stroke-width="1.15" stroke-linecap="round"/>
<path d="M545.7,370.8 L543.7,367.0" stroke="#d8d8d8" stroke-width="1.15" stroke-linecap="round"/>
<path d="M547.7,374.5 L552.7,374.6" stroke="#848484" stroke-width="1.15" stroke-linecap="round"/>
<path d="M552.7,374.6 L557.7,374.7" stroke="#d8d8d8" stroke-width="1.15" stroke-linecap="round"/>
<path d="M541.4,386.2 L536.7,386.2" stroke="#848484" stroke-width="1.15" stroke-linecap="round"/>
<path d="M536.7,386.2 L532.0,386.2" stroke="#d8d8d8" stroke-width="1.15" stroke-linecap="round"/>
<path d="M541.4,386.2 L543.7,390.3" stroke="#848484" stroke-width="1.15" stroke-linecap="round"/>
<path d="M543.7,390.3 L546.0,394.4" stroke="#d8d8d8" stroke-width="1.15" stroke-linecap="round"/>
<circle cx="547.7" cy="374.5" r="2.55" fill="url(#gC)"/>
<circle cx="541.4" cy="386.2" r="2.55" fill="url(#gC)"/>
<circle cx="543.7" cy="367.0" r="1.5" fill="url(#gH)" stroke="#b0b0b0" stroke-width="0.35"/>
<circle cx="557.7" cy="374.7" r="1.5" fill="url(#gH)" stroke="#b0b0b0" stroke-width="0.35"/>
<circle cx="532.0" cy="386.2" r="1.5" fill="url(#gH)" stroke="#b0b0b0" stroke-width="0.35"/>
<circle cx="546.0" cy="394.4" r="1.5" fill="url(#gH)" stroke="#b0b0b0" stroke-width="0.35"/>
</svg></body></html>
